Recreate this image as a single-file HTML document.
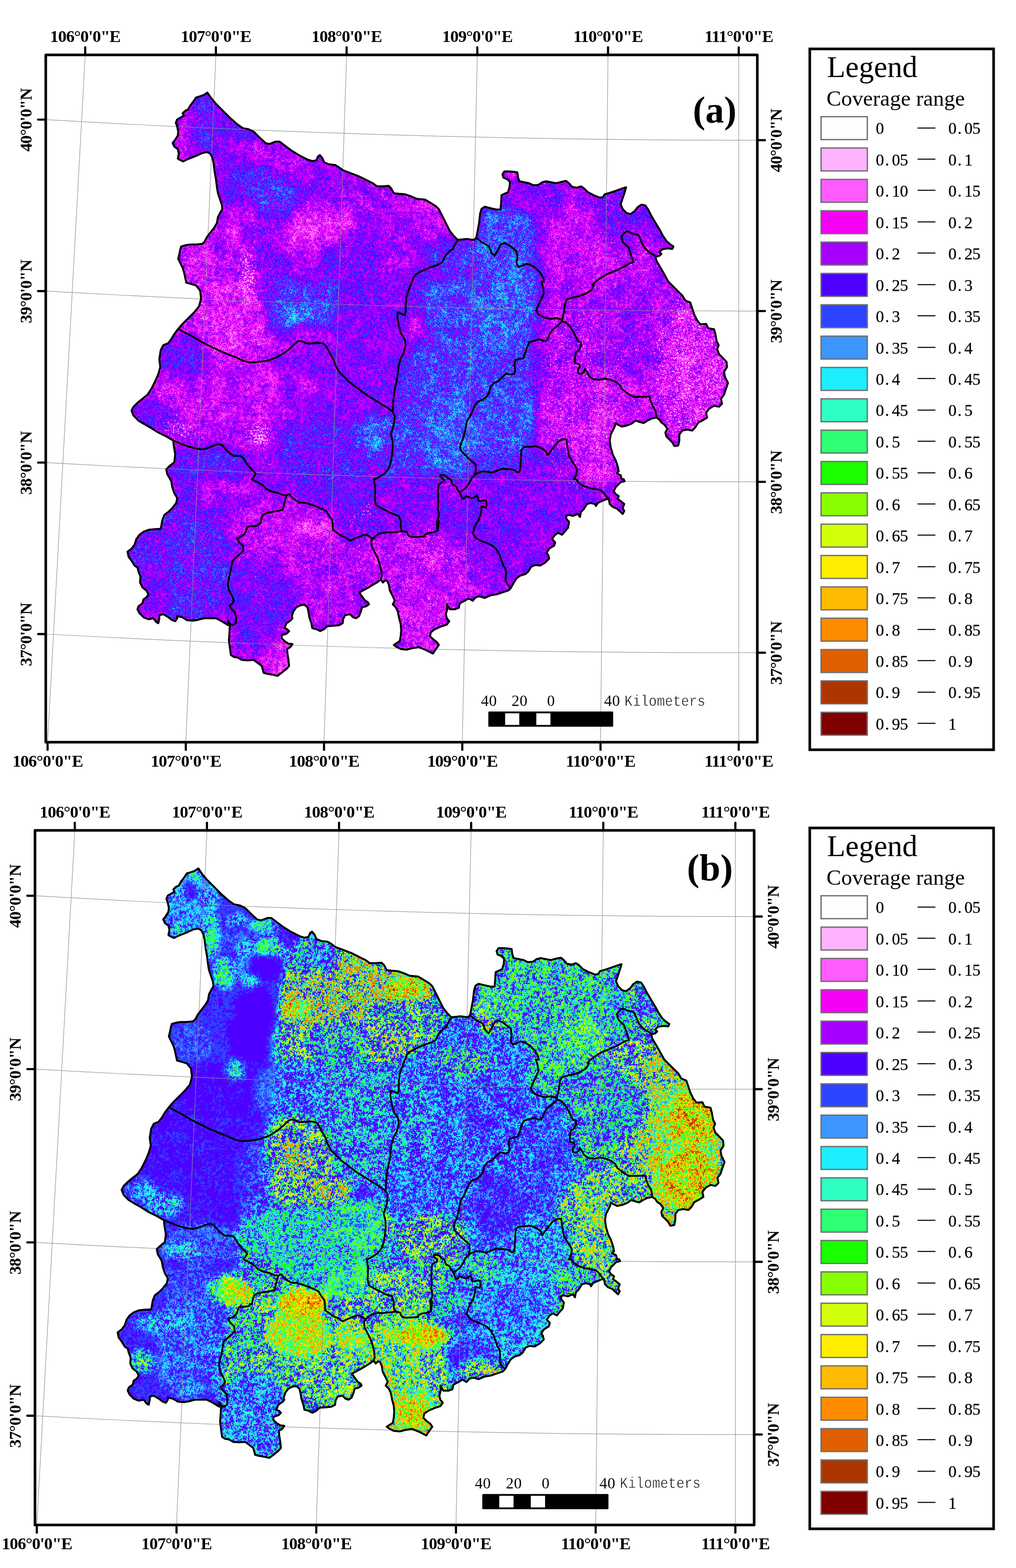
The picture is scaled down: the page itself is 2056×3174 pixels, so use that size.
<!DOCTYPE html>
<html lang="en"><head><meta charset="utf-8"><title>Vegetation coverage maps</title>
<style>
html,body{margin:0;padding:0;background:#fff}
body{width:2056px;height:3174px;overflow:hidden}
svg{display:block}
text{font-family:"Liberation Serif","Times New Roman",serif;fill:#000}
.b{font-weight:bold}
.r{font-weight:normal}
</style></head><body>
<svg width="2056" height="3174" viewBox="0 0 2056 3174">
<defs>
<filter id="blur1" filterUnits="userSpaceOnUse" x="200" y="130" width="1330" height="1295" color-interpolation-filters="sRGB"><feGaussianBlur stdDeviation="10"/></filter>
<filter id="ramp1" filterUnits="userSpaceOnUse" x="200" y="130" width="1330" height="1295" color-interpolation-filters="sRGB">
<feTurbulence type="fractalNoise" baseFrequency="0.035" numOctaves="3" seed="3" result="n1"/>
<feColorMatrix in="n1" type="matrix" values="1 0 0 0 0 1 0 0 0 0 1 0 0 0 0 0 0 0 0 1" result="n1g"/>
<feTurbulence type="fractalNoise" baseFrequency="0.14" numOctaves="2" seed="7" result="n2"/>
<feColorMatrix in="n2" type="matrix" values="0 1 0 0 0 0 1 0 0 0 0 1 0 0 0 0 0 0 0 1" result="n2g"/>
<feTurbulence type="fractalNoise" baseFrequency="0.55" numOctaves="1" seed="11" result="n3"/>
<feColorMatrix in="n3" type="matrix" values="0 0 1 0 0 0 0 1 0 0 0 0 1 0 0 0 0 0 0 1" result="n3g"/>
<feComposite in="n2g" in2="n3g" operator="arithmetic" k1="0" k2="1.0" k3="2.0" k4="-1.0000" result="n23"/>
<feComposite in="n23" in2="n1g" operator="arithmetic" k1="0" k2="1" k3="0.7" k4="-0.3500" result="nz"/>
<feColorMatrix in="SourceGraphic" type="matrix" values="1 0 0 0 0 1 0 0 0 0 1 0 0 0 0 0 0 0 0 1" result="sF"/>
<feColorMatrix in="SourceGraphic" type="matrix" values="0 1 0 0 0 0 1 0 0 0 0 1 0 0 0 0 0 0 0 1" result="sM0"/>
<feComponentTransfer in="sM0" result="sM"><feFuncR type="table" tableValues="1 0"/><feFuncG type="table" tableValues="1 0"/><feFuncB type="table" tableValues="1 0"/></feComponentTransfer>
<feColorMatrix in="SourceGraphic" type="matrix" values="0 0 1 0 0 0 0 1 0 0 0 0 1 0 0 0 0 0 0 1" result="sS"/>
<feComponentTransfer in="sF" result="am0"><feFuncR type="table" tableValues="0.286 0.286 0.286 0.257 0.229 0.229 0.314 0.371 0.400 0.400 0.357 0.357 0.357 0.357 0.357 0.357 0.357 0.357 0.357 0.357 0.357"/><feFuncG type="table" tableValues="0.286 0.286 0.286 0.257 0.229 0.229 0.314 0.371 0.400 0.400 0.357 0.357 0.357 0.357 0.357 0.357 0.357 0.357 0.357 0.357 0.357"/><feFuncB type="table" tableValues="0.286 0.286 0.286 0.257 0.229 0.229 0.314 0.371 0.400 0.400 0.357 0.357 0.357 0.357 0.357 0.357 0.357 0.357 0.357 0.357 0.357"/></feComponentTransfer>
<feComposite in="am0" in2="sM" operator="arithmetic" k1="1" k2="0" k3="0" k4="0" result="am"/>
<feComponentTransfer in="am" result="qq"><feFuncR type="table" tableValues="1 0"/><feFuncG type="table" tableValues="1 0"/><feFuncB type="table" tableValues="1 0"/></feComponentTransfer>
<feComponentTransfer in="sF" result="bs"><feFuncR type="table" tableValues="0.000 0.050 0.100 0.150 0.200 0.250 0.300 0.350 0.400 0.450 0.500 0.550 0.600 0.650 0.700 0.750 0.800 0.850 0.900 0.950 1.000"/><feFuncG type="table" tableValues="0.000 0.050 0.100 0.150 0.200 0.250 0.300 0.350 0.400 0.450 0.500 0.550 0.600 0.650 0.700 0.750 0.800 0.850 0.900 0.950 1.000"/><feFuncB type="table" tableValues="0.000 0.050 0.100 0.150 0.200 0.250 0.300 0.350 0.400 0.450 0.500 0.550 0.600 0.650 0.700 0.750 0.800 0.850 0.900 0.950 1.000"/></feComponentTransfer>
<feComposite in="am" in2="nz" operator="arithmetic" k1="1" k2="0" k3="0" k4="0" result="tt"/>
<feComposite in="tt" in2="qq" operator="arithmetic" k1="0" k2="0.7" k3="0.35" k4="0" result="uu"/>
<feComposite in="uu" in2="bs" operator="arithmetic" k1="0" k2="1" k3="1" k4="-0.35" result="v0"/>
<feTurbulence type="fractalNoise" baseFrequency="0.3" numOctaves="2" seed="23" result="n4"/>
<feColorMatrix in="n4" type="matrix" values="1 0 0 0 0 1 0 0 0 0 1 0 0 0 0 0 0 0 0 1" result="n4g"/>
<feComposite in="sS" in2="n4g" operator="arithmetic" k1="0" k2="0.4" k3="1" k4="-0.4" result="dd"/>
<feComponentTransfer in="dd" result="mk"><feFuncR type="discrete" tableValues="1 0"/><feFuncG type="discrete" tableValues="1 0"/><feFuncB type="discrete" tableValues="1 0"/></feComponentTransfer>
<feComposite in="v0" in2="mk" operator="arithmetic" k1="0" k2="1" k3="0.12" k4="-0.12" result="vv"/>
<feComponentTransfer in="vv" result="cl"><feFuncR type="discrete" tableValues="1.000 1.000 1.000 0.961 0.651 0.302 0.180 0.239 0.110 0.180 0.180 0.102 0.533 0.824 1.000 1.000 1.000 0.878 0.678 0.502"/><feFuncG type="discrete" tableValues="0.988 0.702 0.361 0.000 0.000 0.000 0.271 0.588 0.933 1.000 1.000 1.000 1.000 1.000 0.933 0.733 0.549 0.376 0.208 0.000"/><feFuncB type="discrete" tableValues="1.000 1.000 1.000 0.961 1.000 1.000 1.000 1.000 1.000 0.765 0.451 0.000 0.000 0.039 0.000 0.000 0.000 0.000 0.000 0.000"/></feComponentTransfer>
<feGaussianBlur in="cl" stdDeviation="0.5"/>
</filter>
<filter id="blur2" filterUnits="userSpaceOnUse" x="179.8" y="1700.3" width="1343.4" height="1308" color-interpolation-filters="sRGB"><feGaussianBlur stdDeviation="7"/></filter>
<filter id="ramp2" filterUnits="userSpaceOnUse" x="179.8" y="1700.3" width="1343.4" height="1308" color-interpolation-filters="sRGB">
<feTurbulence type="fractalNoise" baseFrequency="0.035" numOctaves="3" seed="5" result="n1"/>
<feColorMatrix in="n1" type="matrix" values="1 0 0 0 0 1 0 0 0 0 1 0 0 0 0 0 0 0 0 1" result="n1g"/>
<feTurbulence type="fractalNoise" baseFrequency="0.14" numOctaves="2" seed="9" result="n2"/>
<feColorMatrix in="n2" type="matrix" values="0 1 0 0 0 0 1 0 0 0 0 1 0 0 0 0 0 0 0 1" result="n2g"/>
<feTurbulence type="fractalNoise" baseFrequency="0.4" numOctaves="1" seed="13" result="n3"/>
<feColorMatrix in="n3" type="matrix" values="0 0 1 0 0 0 0 1 0 0 0 0 1 0 0 0 0 0 0 1" result="n3g"/>
<feComposite in="n2g" in2="n3g" operator="arithmetic" k1="0" k2="2.2" k3="2.6" k4="-1.9000" result="n23"/>
<feComposite in="n23" in2="n1g" operator="arithmetic" k1="0" k2="1" k3="1.0" k4="-0.5000" result="nz"/>
<feColorMatrix in="SourceGraphic" type="matrix" values="1 0 0 0 0 1 0 0 0 0 1 0 0 0 0 0 0 0 0 1" result="sF"/>
<feColorMatrix in="SourceGraphic" type="matrix" values="0 1 0 0 0 0 1 0 0 0 0 1 0 0 0 0 0 0 0 1" result="sM0"/>
<feComponentTransfer in="sM0" result="sM"><feFuncR type="table" tableValues="1 0"/><feFuncG type="table" tableValues="1 0"/><feFuncB type="table" tableValues="1 0"/></feComponentTransfer>
<feColorMatrix in="SourceGraphic" type="matrix" values="0 0 1 0 0 0 0 1 0 0 0 0 1 0 0 0 0 0 0 1" result="sS"/>
<feComponentTransfer in="sF" result="am0"><feFuncR type="table" tableValues="0.071 0.071 0.071 0.071 0.071 0.114 0.200 0.314 0.514 0.786 1.000 1.000 0.929 0.786 0.686 0.600 0.543 0.486 0.429 0.357 0.286"/><feFuncG type="table" tableValues="0.071 0.071 0.071 0.071 0.071 0.114 0.200 0.314 0.514 0.786 1.000 1.000 0.929 0.786 0.686 0.600 0.543 0.486 0.429 0.357 0.286"/><feFuncB type="table" tableValues="0.071 0.071 0.071 0.071 0.071 0.114 0.200 0.314 0.514 0.786 1.000 1.000 0.929 0.786 0.686 0.600 0.543 0.486 0.429 0.357 0.286"/></feComponentTransfer>
<feComposite in="am0" in2="sM" operator="arithmetic" k1="1" k2="0" k3="0" k4="0" result="am"/>
<feComponentTransfer in="am" result="qq"><feFuncR type="table" tableValues="1 0"/><feFuncG type="table" tableValues="1 0"/><feFuncB type="table" tableValues="1 0"/></feComponentTransfer>
<feComponentTransfer in="sF" result="bs"><feFuncR type="table" tableValues="0.000 0.050 0.100 0.150 0.200 0.250 0.300 0.335 0.370 0.400 0.440 0.490 0.550 0.610 0.670 0.720 0.770 0.820 0.880 0.930 1.000"/><feFuncG type="table" tableValues="0.000 0.050 0.100 0.150 0.200 0.250 0.300 0.335 0.370 0.400 0.440 0.490 0.550 0.610 0.670 0.720 0.770 0.820 0.880 0.930 1.000"/><feFuncB type="table" tableValues="0.000 0.050 0.100 0.150 0.200 0.250 0.300 0.335 0.370 0.400 0.440 0.490 0.550 0.610 0.670 0.720 0.770 0.820 0.880 0.930 1.000"/></feComponentTransfer>
<feComposite in="am" in2="nz" operator="arithmetic" k1="1" k2="0" k3="0" k4="0" result="tt"/>
<feComposite in="tt" in2="qq" operator="arithmetic" k1="0" k2="0.7" k3="0.35" k4="0" result="uu"/>
<feComposite in="uu" in2="bs" operator="arithmetic" k1="0" k2="1" k3="1" k4="-0.35" result="v0"/>
<feTurbulence type="fractalNoise" baseFrequency="0.3" numOctaves="2" seed="23" result="n4"/>
<feColorMatrix in="n4" type="matrix" values="1 0 0 0 0 1 0 0 0 0 1 0 0 0 0 0 0 0 0 1" result="n4g"/>
<feComposite in="sS" in2="n4g" operator="arithmetic" k1="0" k2="0.4" k3="1" k4="-0.4" result="dd"/>
<feComponentTransfer in="dd" result="mk"><feFuncR type="discrete" tableValues="1 0"/><feFuncG type="discrete" tableValues="1 0"/><feFuncB type="discrete" tableValues="1 0"/></feComponentTransfer>
<feComposite in="v0" in2="mk" operator="arithmetic" k1="0" k2="1" k3="0.15" k4="-0.15" result="vv"/>
<feComponentTransfer in="vv" result="cl"><feFuncR type="discrete" tableValues="0.302 0.302 0.302 0.302 0.302 0.302 0.180 0.239 0.110 0.180 0.180 0.102 0.533 0.824 1.000 1.000 1.000 0.878 0.678 0.502"/><feFuncG type="discrete" tableValues="0.000 0.000 0.000 0.000 0.000 0.000 0.271 0.588 0.933 1.000 1.000 1.000 1.000 1.000 0.933 0.733 0.549 0.376 0.208 0.000"/><feFuncB type="discrete" tableValues="1.000 1.000 1.000 1.000 1.000 1.000 1.000 1.000 1.000 0.765 0.451 0.000 0.000 0.039 0.000 0.000 0.000 0.000 0.000 0.000"/></feComponentTransfer>
<feGaussianBlur in="cl" stdDeviation="0.5"/>
</filter>
</defs>
<rect width="2056" height="3174" fill="#fff"/>
<!-- map a -->
<clipPath id="clip1"><path d="M419.7 187.3L427 198.1L437 210.2L449.1 222.3L465.2 238.4L481.2 252.4L491.3 259.3L503.4 261.7L513.4 266.5L525.5 278.6L537.5 289.8L545.6 291.4L557.6 286.6L565.7 286.6L573.7 292.6L589.8 304.7L605.9 314.7L622 322.8L632 326L640.1 324.8L643.3 316.8L647.3 313.9L652.1 319.6L656.1 328.8L666.2 332.8L678.3 334L686.3 338.9L694.3 344.9L710.4 350.9L726.5 357L742.6 365L754.7 371L762.7 377.1L774.8 377.1L786.8 376.3L791.6 381.1L796.9 391.1L806.9 392.3L819 393.2L831.1 397.2L843.1 402.4L860 404L872.1 411.2L882.1 417.3L888.1 423.3L892.2 431.3L898.2 443.4L904.2 455.5L910.3 467.5L918.3 477.6L926.3 485.6L934.4 484.8L944.4 483.6L958.5 485.6L963.7 481.6L966.5 467.5L969.4 451.5L971.8 431.3L974.6 422.5L980.6 418.5L992.7 421.3L1004.7 424.1L1012.8 424.1L1014 411.2L1014.8 395.2L1020.8 392.3L1028.1 389.1L1030.9 379.1L1032.1 369L1026.9 363L1018.8 359.8L1016.8 352.9L1020.8 346.9L1028.9 346.9L1038.9 347.7L1047 348.9L1048.2 359L1051 367L1061 369L1071.1 371L1079.1 375.1L1089.2 374.3L1097.2 369L1105.3 367L1115.3 369L1125.4 371L1137.4 367.8L1145.5 366.2L1151.5 371L1157.5 378.3L1167.6 379.9L1175.6 377.1L1181.7 381.1L1189.7 389.1L1201.8 395.2L1213.8 400L1219.9 399.2L1223.9 393.2L1233.9 390.3L1246 386.3L1258.1 381.9L1266.9 379.1L1264.1 389.1L1260.1 401.2L1256 413.3L1260.1 423.3L1268.1 431.3L1276.1 433.4L1284.2 427.3L1290.2 419.3L1298.3 414.1L1306.3 416.1L1312.3 425.3L1318.4 437.4L1324.4 447.4L1330.4 457.5L1336.5 467.5L1340.5 475.6L1348.5 487.6L1356.6 494.9L1362.6 498.9L1360.6 503.7L1350.5 502.9L1340.5 504.5L1334.4 509.8L1338.5 513.8L1334.4 517.8L1326.4 519.8L1328.4 527.8L1334.4 537.9L1342.5 552L1352.5 570.1L1362.6 580.1L1372.6 590.1L1380.7 598.1L1386.7 608.2L1396.8 612.2L1400.8 624.3L1404.8 636.3L1410.8 648.4L1416.9 656.4L1428.9 655.6L1433 664.5L1445 666.5L1447.8 676.5L1450.2 690.6L1454.3 698.7L1451.1 706.7L1455.1 716.8L1463.1 724.8L1470.4 732.8L1471.2 742.9L1465.1 752.9L1467.1 763L1473.2 775.1L1469.1 787.1L1465.1 799.2L1459.1 807.2L1461.1 817.3L1455.1 823.3L1445 821.3L1435 827.3L1428.9 835.4L1430.9 845.4L1420.9 851.5L1412.9 855.5L1406.8 865.5L1400.8 871.6L1390.7 869.5L1380.7 871.6L1374.7 879.6L1374.7 891.7L1372.6 901.7L1364.6 902.9L1360.6 895.7L1354.6 889.6L1348.5 883.6L1346.5 875.6L1350.5 867.5L1344.5 859.5L1338.5 855.5L1334.4 849.4L1328.4 845.4L1318.4 847.4L1310.3 851.5L1302.3 856.3L1292.2 853.5L1286.2 851.5L1278.2 857.5L1268.1 861.5L1258.1 863.5L1250 859.5L1246 856.3L1244 863.5L1240 871.6L1235.9 879.6L1233.9 891.7L1235.9 905.7L1240 919.8L1246 931.9L1250 943.9L1252 954L1248 958L1256 962L1258.1 970.1L1262.1 970L1264.1 974L1256 976L1252 980.1L1246 986.1L1242 994.1L1246 1000.2L1252 1004.2L1250 1010.2L1256 1014.2L1263.3 1020.3L1260.1 1028.3L1263.3 1034.3L1260.1 1040.4L1256 1036.3L1248 1029.5L1240 1026.3L1233.9 1020.3L1231.9 1010.2L1227.9 1010.2L1217.8 1014.2L1209.8 1018.2L1205.8 1024.3L1203.8 1020.3L1195.7 1018.2L1187.7 1020.3L1181.7 1030.3L1175.6 1036.3L1173.6 1046.4L1169.6 1040.4L1159.5 1044.4L1151.5 1042.4L1145.5 1044.4L1146.3 1050.4L1151.5 1056.4L1149.5 1068.5L1143.5 1075.3L1137.4 1082.6L1129.4 1078.6L1123.4 1082.6L1117.3 1090.6L1123.4 1097.9L1121.3 1104.7L1111.3 1110.7L1106.1 1119.6L1109.3 1122.8L1111.3 1130.8L1103.3 1138.9L1093.2 1144.9L1083.2 1143.7L1075.1 1146.9L1069.1 1157L1063 1162.2L1053 1165L1045 1171L1038.9 1181.1L1033.7 1190.3L1028.9 1195.2L1016.8 1199.2L1004.7 1203.2L992.7 1205.2L980.6 1210.4L970.6 1207.2L962.5 1209.2L956.5 1216.1L948.5 1211.2L940.4 1216.1L930.4 1221.3L928.4 1230.5L920.3 1233.4L910.3 1233.4L904.2 1223.3L905 1233.4L902.2 1243.4L904.2 1251.5L909.1 1257.5L904.2 1264.3L892.2 1268.3L880.1 1273.6L872.1 1279.6L870.1 1287.6L876.1 1293.7L884.1 1299.7L888.1 1305.7L882.1 1313.8L876.1 1323L868 1319L860 1315L847.1 1309.8L835.1 1311.8L823 1315L810.9 1313.8L802.9 1309.8L796.9 1305.7L800.9 1302.9L808.9 1297.7L810.9 1287.6L811.8 1275.6L810.9 1263.5L807.7 1251.5L804.9 1237.4L800.9 1229.3L794.9 1223.3L798.9 1215.3L794.9 1207.2L788.8 1195.2L786.8 1183.1L782.8 1175.1L778.8 1175.1L774.8 1179.1L770.7 1173L762.7 1179.1L752.6 1185.1L742.6 1191.1L734.6 1195.2L727.3 1199.2L732.5 1207.2L738.6 1215.3L744.6 1219.3L746.6 1223.3L740.6 1227.3L732.5 1229.3L730.5 1237.4L726.5 1247.4L720.5 1251.5L714.4 1249.4L708.4 1243.4L698.4 1245.4L694.3 1253.5L693.5 1261.5L686.3 1265.5L674.2 1266.7L662.2 1267.5L656.1 1273.6L648.1 1277.6L640.1 1273.6L632 1271.6L630 1261.5L626 1249.4L624 1237.4L622 1229.3L615.9 1224.1L607.9 1225.3L599.9 1229.3L593.8 1237.4L590.6 1247.4L591.8 1251.5L587.8 1256.3L579.8 1261.5L575.7 1271.6L581 1273.6L585 1277.6L579.8 1282.8L570.5 1285.6L569.7 1291.7L575.7 1297.7L583.8 1302.9L591.8 1303.7L587.8 1309.8L581 1313.8L581.8 1323.8L583.8 1335.9L585 1348L579.8 1354L569.7 1362L561.7 1368.1L553.6 1366L541.6 1364L533.5 1362L529.5 1348L521.5 1341.9L513.4 1335.9L501.3 1336.7L489.3 1335.9L481.2 1331.1L473.2 1329.9L467.2 1325.8L465.2 1311.8L463.2 1295.7L464.4 1279.6L465.2 1263.5L461.9 1256.3L461.1 1265.5L455.1 1261.5L445.1 1255.5L437 1251.5L425 1251.5L412.9 1251.5L400.8 1254.7L390.8 1256.3L378.7 1255.5L368.7 1249.4L358.6 1247.4L358.6 1251.5L354.6 1257.5L348.6 1255.5L340.5 1249.4L330.5 1243.4L322.4 1245.4L322.4 1251.5L320.4 1261.5L316.4 1259.5L310.4 1251.5L300.3 1253.5L290.3 1249.4L282.2 1241.4L278.2 1233.4L280.2 1227.3L288.2 1221.3L290.3 1213.3L296.3 1209.2L300.3 1203.2L296.3 1195.2L288.2 1189.1L283.4 1179.1L284.2 1167L280.2 1157L278.2 1148.9L272.2 1144.9L266.1 1134.9L260.1 1126.8L258.1 1116.8L266.1 1110.7L272.2 1102.7L276.2 1090.6L282.2 1082.6L290.3 1076.5L300.3 1072.5L312.4 1071.3L325.2 1070.5L326.4 1064.5L328.5 1052.4L332.5 1042.4L340.5 1036.3L348.6 1028.3L356.6 1018.2L358.6 1008.2L352.6 998.1L348.6 986.1L346.5 974L344.5 970.1L338.5 960L336.5 950L342.5 943.9L352.6 935.9L354.6 919.8L351.8 903.7L350.6 891.7L336.5 883.6L320.4 875.6L304.3 865.5L290.3 857.5L280.2 851.5L270.2 841.4L266.1 831.3L270.2 823.3L278.2 815.3L288.2 807.2L298.3 799.2L306.3 787.1L314.4 771L320.4 757L324.4 742.9L322.4 726.8L325.2 708.7L330.5 698.7L340.5 694.6L346.5 686.6L352.6 676.5L360.6 665.7L368.7 656.4L380.7 644.4L392.8 632.3L402.8 620.3L406.9 604.2L404.9 588.1L396.8 578L386.8 574.8L376.7 572L376.7 570.1L374.7 562L372.7 552L369.5 541.9L364.6 531.9L360.6 523.8L362.6 515.8L364.6 505.7L366.7 498.9L374.7 496.5L384.7 494.9L396.8 494.9L408.9 493.7L413.7 489.6L418.9 479.6L425.8 470.8L433 461.5L439 451.5L441 439.4L445.1 431.3L449.9 423.3L449.1 415.3L445.1 403.2L441 391.1L439 379.1L437 363L434.2 346.9L432.2 330.8L429.8 318.8L425 310.7L418.9 307.9L408.9 309.9L398.8 314.7L388.8 318.8L378.7 322.8L370.7 326.8L363.8 323.6L359.8 320.8L361.8 310.7L359.8 301.9L352.6 296.7L349.4 289.4L354.6 282.6L359.8 274.5L360.6 266.5L358.6 256.4L355.8 248.4L358.6 241.6L364.6 238.4L371.9 234.3L369.5 229.5L374.7 224.3L380.7 221.5L384.7 214.2L390.8 206.2L396.8 197.3L404.9 194.9L412.9 192.1Z"/></clipPath>
<g clip-path="url(#clip1)"><g filter="url(#ramp1)">
<rect x="200" y="130" width="1330" height="1295" fill="#380000"/>
<g filter="url(#blur1)">
<ellipse cx="419.4" cy="258.8" rx="36.2" ry="72.5" fill="#450000"/>
<ellipse cx="372.1" cy="271.2" rx="20.4" ry="49.8" fill="#360000"/>
<ellipse cx="468.8" cy="370" rx="45.3" ry="58.9" fill="#450000"/>
<ellipse cx="543" cy="386.5" rx="45.3" ry="49.8" fill="#4c0000"/>
<ellipse cx="477.1" cy="485.3" rx="36.2" ry="67.9" fill="#330000"/>
<ellipse cx="411.2" cy="580" rx="54.4" ry="99.7" fill="#320000"/>
<ellipse cx="411.2" cy="551.2" rx="36.2" ry="40.8" fill="#2e0000"/>
<ellipse cx="493.6" cy="575.9" rx="45.3" ry="58.9" fill="#330000"/>
<ellipse cx="633.6" cy="468.9" rx="63.4" ry="40.8" fill="#2d0000"/>
<ellipse cx="790.1" cy="427.7" rx="108.7" ry="67.9" fill="#380000"/>
<ellipse cx="847.7" cy="407.1" rx="45.3" ry="27.2" fill="#300000"/>
<ellipse cx="683" cy="365.9" rx="90.6" ry="45.3" fill="#3b0000"/>
<ellipse cx="617.1" cy="592.4" rx="81.5" ry="86.1" fill="#4a0000"/>
<ellipse cx="608.9" cy="637.7" rx="54.4" ry="22.6" fill="#5c0000"/>
<ellipse cx="748.9" cy="588.3" rx="63.4" ry="108.7" fill="#400000"/>
<ellipse cx="864.2" cy="493.6" rx="63.4" ry="67.9" fill="#370000"/>
<ellipse cx="493.6" cy="678.9" rx="72.5" ry="54.4" fill="#2f0000"/>
<ellipse cx="370" cy="728.3" rx="45.3" ry="45.3" fill="#470000"/>
<ellipse cx="378.2" cy="806.5" rx="108.7" ry="40.8" fill="#300000"/>
<ellipse cx="485.3" cy="740.6" rx="81.5" ry="49.8" fill="#370000"/>
<ellipse cx="320.6" cy="851.8" rx="45.3" ry="36.2" fill="#3b0000"/>
<ellipse cx="518.3" cy="843.6" rx="45.3" ry="63.4" fill="#320000"/>
<ellipse cx="625.3" cy="769.5" rx="72.5" ry="72.5" fill="#390000"/>
<ellipse cx="625.3" cy="794.2" rx="36.2" ry="27.2" fill="#300000"/>
<ellipse cx="678.9" cy="909.5" rx="131.4" ry="81.5" fill="#450000"/>
<ellipse cx="744.8" cy="757.1" rx="58.9" ry="67.9" fill="#3d0000"/>
<ellipse cx="761.2" cy="872.4" rx="40.8" ry="31.7" fill="#570000"/>
<ellipse cx="711.8" cy="1024.8" rx="95.1" ry="45.3" fill="#410000"/>
<path d="M921.8 489.4L971.2 481.2L971.2 423.6L1086.5 423.6L1086.5 950.7L872.4 950.7L798.3 983.6L765.3 975.4L798.3 835.4L806.5 621.2L831.2 571.8L888.9 538.9Z" fill="#4c0000"/>
<ellipse cx="888.9" cy="600.6" rx="72.5" ry="104.2" fill="#440000"/>
<ellipse cx="835.4" cy="687.1" rx="31.7" ry="54.4" fill="#330000"/>
<ellipse cx="1028.9" cy="505.9" rx="63.4" ry="90.6" fill="#520000"/>
<ellipse cx="1010.4" cy="683" rx="79.3" ry="104.2" fill="#500000"/>
<ellipse cx="880.6" cy="818.9" rx="81.5" ry="135.9" fill="#4c0000"/>
<ellipse cx="921.8" cy="919.8" rx="54.4" ry="38.5" fill="#580000"/>
<ellipse cx="1018.6" cy="835.4" rx="70.2" ry="108.7" fill="#520000"/>
<path d="M1086.5 324.7L1383 324.7L1481.9 654.2L1481.9 917.7L1259.5 983.6L1086.5 950.7Z" fill="#360000"/>
<ellipse cx="1078.3" cy="398.8" rx="63.4" ry="36.2" fill="#3c0000"/>
<ellipse cx="1173" cy="510" rx="95.1" ry="86.1" fill="#340000"/>
<ellipse cx="1288.3" cy="452.4" rx="77" ry="58.9" fill="#3e0000"/>
<ellipse cx="1243" cy="662.4" rx="108.7" ry="81.5" fill="#370000"/>
<ellipse cx="1403.6" cy="744.8" rx="67.9" ry="135.9" fill="#300000"/>
<ellipse cx="1127.7" cy="736.5" rx="45.3" ry="90.6" fill="#330000"/>
<ellipse cx="1193.6" cy="860.1" rx="63.4" ry="135.9" fill="#300000"/>
<ellipse cx="1206" cy="909.5" rx="40.8" ry="54.4" fill="#2d0000"/>
<ellipse cx="1090.7" cy="1070.1" rx="140.4" ry="131.4" fill="#3c0000"/>
<ellipse cx="823" cy="1024.8" rx="72.5" ry="54.4" fill="#450000"/>
<ellipse cx="930.1" cy="1024.8" rx="45.3" ry="45.3" fill="#410000"/>
<ellipse cx="868.3" cy="1131.9" rx="113.2" ry="63.4" fill="#330000"/>
<ellipse cx="860.1" cy="1251.3" rx="58.9" ry="67.9" fill="#2e0000"/>
<ellipse cx="979.5" cy="1127.7" rx="45.3" ry="67.9" fill="#3b0000"/>
<ellipse cx="592.4" cy="1090.7" rx="90.6" ry="63.4" fill="#330000"/>
<ellipse cx="625.3" cy="1074.2" rx="45.3" ry="22.6" fill="#2b0000"/>
<ellipse cx="538.9" cy="1222.5" rx="77" ry="99.7" fill="#420000"/>
<ellipse cx="683" cy="1193.6" rx="81.5" ry="67.9" fill="#370000"/>
<ellipse cx="563.6" cy="1329.5" rx="31.7" ry="36.2" fill="#280000"/>
<ellipse cx="423.5" cy="942.4" rx="86.1" ry="45.3" fill="#420000"/>
<ellipse cx="435.9" cy="1000.1" rx="45.3" ry="36.2" fill="#330000"/>
<ellipse cx="370" cy="1148.3" rx="117.8" ry="126.8" fill="#460000"/>
<ellipse cx="312.4" cy="1201.9" rx="36.2" ry="58.9" fill="#330000"/>
<ellipse cx="415.3" cy="1024.8" rx="67.9" ry="45.3" fill="#3e0000"/>
<ellipse cx="412.9" cy="256.4" rx="22.1" ry="59.7" fill="#450000" opacity="0.7"/>
<ellipse cx="372.7" cy="276.5" rx="17.7" ry="55.3" fill="#330000" opacity="0.7"/>
<ellipse cx="393.8" cy="240.4" rx="10" ry="11.1" fill="#2b0000" opacity="0.7"/>
<ellipse cx="449.1" cy="262.5" rx="22.1" ry="57.5" fill="#450000" opacity="0.7"/>
<ellipse cx="447.1" cy="286.6" rx="11.1" ry="17.7" fill="#2e0000" opacity="0.7"/>
<ellipse cx="443" cy="334.9" rx="11.1" ry="22.1" fill="#2e0000" opacity="0.7"/>
<ellipse cx="493.3" cy="266.5" rx="31" ry="17.7" fill="#450000" opacity="0.7"/>
<ellipse cx="509.4" cy="302.7" rx="31" ry="22.1" fill="#2e0000" opacity="0.7"/>
<ellipse cx="475.2" cy="375.1" rx="24.3" ry="48.7" fill="#450000" opacity="0.7"/>
<ellipse cx="473.2" cy="387.1" rx="8.8" ry="8.8" fill="#290000" opacity="0.7"/>
<ellipse cx="569.7" cy="314.7" rx="35.4" ry="26.5" fill="#380000" opacity="0.7"/>
<ellipse cx="517.4" cy="367" rx="31" ry="48.7" fill="#470000" opacity="0.7"/>
<ellipse cx="563.7" cy="346.9" rx="19.9" ry="13.3" fill="#260000" opacity="0.7"/>
<ellipse cx="571.7" cy="407.2" rx="33.2" ry="39.8" fill="#520000" opacity="0.7"/>
<ellipse cx="648.1" cy="367" rx="50.9" ry="48.7" fill="#3e0000" opacity="0.7"/>
<ellipse cx="642.1" cy="346.9" rx="22.1" ry="8.8" fill="#2e0000" opacity="0.7"/>
<ellipse cx="738.6" cy="383.1" rx="48.7" ry="39.8" fill="#390000" opacity="0.7"/>
<ellipse cx="821.4" cy="423.3" rx="42.5" ry="31" fill="#330000" opacity="0.7"/>
<ellipse cx="469.2" cy="459.5" rx="31" ry="44.2" fill="#330000" opacity="0.7"/>
<ellipse cx="509.4" cy="427.3" rx="13.3" ry="17.7" fill="#290000" opacity="0.7"/>
<ellipse cx="541.6" cy="467.5" rx="48.7" ry="35.4" fill="#3c0000" opacity="0.7"/>
<ellipse cx="613.9" cy="457.5" rx="31" ry="37.6" fill="#260000" opacity="0.7"/>
<ellipse cx="682.3" cy="451.5" rx="44.2" ry="26.5" fill="#2b0000" opacity="0.7"/>
<ellipse cx="791.2" cy="481.6" rx="75.6" ry="55.3" fill="#3c0000" opacity="0.7"/>
<ellipse cx="404.9" cy="534.9" rx="39.8" ry="38.7" fill="#300000" opacity="0.7"/>
<ellipse cx="469.2" cy="534.9" rx="31" ry="38.7" fill="#380000" opacity="0.7"/>
<ellipse cx="549.6" cy="534.9" rx="39.8" ry="38.7" fill="#410000" opacity="0.7"/>
<ellipse cx="613.9" cy="530.9" rx="31" ry="43.1" fill="#2e0000" opacity="0.7"/>
<ellipse cx="702.4" cy="526.8" rx="66.3" ry="47.5" fill="#410000" opacity="0.7"/>
<ellipse cx="811.3" cy="546.9" rx="53.5" ry="25.4" fill="#360000" opacity="0.7"/>
<ellipse cx="876.1" cy="451.5" rx="17.7" ry="44.2" fill="#2e0000" opacity="0.7"/>
<ellipse cx="890.2" cy="507.7" rx="33.2" ry="26.5" fill="#4a0000" opacity="0.7"/>
<ellipse cx="938.4" cy="528.9" rx="28.7" ry="45.3" fill="#4f0000" opacity="0.7"/>
<ellipse cx="1141.5" cy="381.1" rx="132.7" ry="33.2" fill="#3e0000" opacity="0.7"/>
<ellipse cx="1161.6" cy="491.7" rx="66.3" ry="66.3" fill="#330000" opacity="0.7"/>
<ellipse cx="1292.2" cy="449.4" rx="77.4" ry="68.6" fill="#410000" opacity="0.7"/>
<ellipse cx="1302.3" cy="520.8" rx="44.2" ry="54.2" fill="#330000" opacity="0.7"/>
<path d="M974.6 423.3L1012.8 427.3L1040.9 427.3L1069.1 459.5L1089.2 491.7L1093.2 570.1L1040.9 570.1L1045 511.8L1020.8 491.7L1000.7 515.8L980.6 495.7L963.7 483.6Z" fill="#520000" opacity="0.7"/>
<ellipse cx="394.8" cy="610.2" rx="24.3" ry="44.2" fill="#2e0000" opacity="0.7"/>
<ellipse cx="477.2" cy="650.4" rx="66.3" ry="88.5" fill="#2b0000" opacity="0.7"/>
<ellipse cx="609.9" cy="630.3" rx="79.6" ry="66.3" fill="#4c0000" opacity="0.7"/>
<ellipse cx="618" cy="640.4" rx="48.7" ry="19.9" fill="#610000" opacity="0.7"/>
<ellipse cx="752.6" cy="690.6" rx="77.4" ry="132.7" fill="#3e0000" opacity="0.7"/>
<ellipse cx="624" cy="674.5" rx="42" ry="17.7" fill="#2e0000" opacity="0.7"/>
<ellipse cx="368.7" cy="722.8" rx="44.2" ry="44.2" fill="#450000" opacity="0.7"/>
<ellipse cx="350.6" cy="791.1" rx="55.3" ry="44.2" fill="#330000" opacity="0.7"/>
<ellipse cx="306.3" cy="841.4" rx="37.6" ry="33.2" fill="#420000" opacity="0.7"/>
<ellipse cx="493.3" cy="811.2" rx="88.5" ry="88.5" fill="#330000" opacity="0.7"/>
<ellipse cx="541.6" cy="781.1" rx="22.1" ry="33.2" fill="#2e0000" opacity="0.7"/>
<ellipse cx="684.3" cy="777.1" rx="121.6" ry="81.8" fill="#3e0000" opacity="0.7"/>
<ellipse cx="611.9" cy="779.1" rx="33.2" ry="17.7" fill="#300000" opacity="0.7"/>
<ellipse cx="678.3" cy="910.8" rx="128.3" ry="65.2" fill="#450000" opacity="0.7"/>
<ellipse cx="762.7" cy="881.6" rx="44.2" ry="33.2" fill="#590000" opacity="0.7"/>
<ellipse cx="425" cy="936.9" rx="79.6" ry="36.5" fill="#470000" opacity="0.7"/>
<path d="M860 570L1095.2 570L1085.2 628.3L1083.2 690.6L1083.2 811.2L1032.9 831.3L960.5 943.9L960.5 970.1L860 970.1Z" fill="#4f0000"/>
<ellipse cx="1020.8" cy="630.3" rx="66.3" ry="66.3" fill="#590000" opacity="0.7"/>
<ellipse cx="910.3" cy="890.7" rx="55.3" ry="87.4" fill="#580000" opacity="0.7"/>
<ellipse cx="1153.5" cy="690.6" rx="75.2" ry="132.7" fill="#370000" opacity="0.7"/>
<ellipse cx="1153.5" cy="890.7" rx="75.2" ry="87.4" fill="#330000" opacity="0.7"/>
<ellipse cx="1282.2" cy="670.5" rx="66.3" ry="110.6" fill="#3b0000" opacity="0.7"/>
<ellipse cx="1406.8" cy="740.9" rx="70.8" ry="121.6" fill="#2e0000" opacity="0.7"/>
<ellipse cx="1282.2" cy="811.2" rx="66.3" ry="44.2" fill="#300000" opacity="0.7"/>
<ellipse cx="1109.3" cy="936.9" rx="61.9" ry="36.5" fill="#420000" opacity="0.7"/>
<ellipse cx="1006.8" cy="940.9" rx="50.9" ry="32.1" fill="#470000" opacity="0.7"/>
<ellipse cx="1205.8" cy="910.8" rx="44.2" ry="65.2" fill="#2e0000" opacity="0.7"/>
<ellipse cx="425" cy="1000.2" rx="26.5" ry="24.3" fill="#330000" opacity="0.7"/>
<ellipse cx="370.7" cy="1140.9" rx="121.6" ry="121.6" fill="#420000" opacity="0.7"/>
<ellipse cx="310.4" cy="1090.6" rx="33.2" ry="22.1" fill="#330000" opacity="0.7"/>
<ellipse cx="312.4" cy="1197.2" rx="31" ry="37.6" fill="#300000" opacity="0.7"/>
<ellipse cx="613.9" cy="1090.6" rx="163.6" ry="88.5" fill="#330000" opacity="0.7"/>
<ellipse cx="638.1" cy="1066.5" rx="39.8" ry="26.5" fill="#260000" opacity="0.7"/>
<ellipse cx="533.5" cy="1231.3" rx="75.2" ry="110.6" fill="#400000" opacity="0.7"/>
<ellipse cx="559.6" cy="1319.8" rx="28.7" ry="53.1" fill="#260000" opacity="0.7"/>
<ellipse cx="682.3" cy="1181.1" rx="88.5" ry="99.5" fill="#370000" opacity="0.7"/>
<path d="M513.4 970L758.7 970L758.7 1022.3L810.9 1050.4L810.9 1074.5L754.7 1090.6L708.4 1094.6L673.4 1070.5L666.2 1044.4L615.9 1017.4L585.8 1000.2L549.6 994.9Z" fill="#450000" opacity="0.7"/>
<ellipse cx="809.3" cy="1022.3" rx="55.7" ry="57.5" fill="#3c0000" opacity="0.7"/>
<ellipse cx="811.3" cy="1197.2" rx="53.5" ry="126.1" fill="#330000" opacity="0.7"/>
<ellipse cx="908.2" cy="1144.9" rx="53.1" ry="192.4" fill="#360000" opacity="0.7"/>
<ellipse cx="880.1" cy="1130.8" rx="22.1" ry="22.1" fill="#290000" opacity="0.7"/>
<ellipse cx="930.4" cy="1191.1" rx="11.1" ry="22.1" fill="#290000" opacity="0.7"/>
<ellipse cx="924.3" cy="1050.4" rx="39.8" ry="44.2" fill="#450000" opacity="0.7"/>
<path d="M964.5 1006.2L984.6 1010.2L976.6 1022.3L956.5 1070.5L996.7 1094.6L1020.8 1142.9L1032.9 1179.1L1109.3 1118.8L1149.5 1050.4L1181.7 1018.2L1229.9 998.1L1173.6 970L932.4 970L936.4 994.1Z" fill="#3d0000"/>
<ellipse cx="1000.7" cy="1080.6" rx="44.2" ry="99.5" fill="#410000" opacity="0.7"/>
<ellipse cx="410.9" cy="254.4" rx="24.3" ry="61.9" fill="#470000" opacity="0.8"/>
<ellipse cx="543" cy="386.5" rx="45.3" ry="49.8" fill="#4c0000" opacity="0.7"/>
<ellipse cx="493.3" cy="266.5" rx="39.8" ry="26.5" fill="#460000" opacity="0.6"/>
<ellipse cx="364.6" cy="1140.9" rx="110.6" ry="117.2" fill="#490000" opacity="0.6"/>
<ellipse cx="374.7" cy="994.1" rx="28.7" ry="26.5" fill="#460000" opacity="0.6"/>
<ellipse cx="314.4" cy="841.4" rx="37.6" ry="37.6" fill="#450000" opacity="0.5"/>
<ellipse cx="521.5" cy="1243.4" rx="44.2" ry="88.5" fill="#440000" opacity="0.6"/>
</g>
<g filter="url(#blur1)" style="mix-blend-mode:lighten">
<path d="M1086.5 324.7L1383 324.7L1481.9 654.2L1481.9 917.7L1259.5 983.6L1086.5 950.7Z" fill="#000059"/>
<ellipse cx="1399.5" cy="744.8" rx="81.5" ry="154" fill="#000099"/>
<ellipse cx="1177.1" cy="818.9" rx="90.6" ry="181.2" fill="#00007a"/>
<ellipse cx="872.4" cy="1197.7" rx="126.8" ry="145" fill="#000066"/>
<ellipse cx="633.6" cy="1144.2" rx="145" ry="131.4" fill="#000059"/>
<ellipse cx="468.8" cy="580" rx="126.8" ry="172.1" fill="#000059"/>
<ellipse cx="415.3" cy="835.4" rx="158.5" ry="81.5" fill="#00004c"/>
<ellipse cx="748.9" cy="456.5" rx="190.3" ry="108.7" fill="#00004c"/>
<ellipse cx="374.1" cy="1107.1" rx="113.2" ry="135.9" fill="#000040"/>
<ellipse cx="683" cy="839.5" rx="135.9" ry="158.5" fill="#000033"/>
<ellipse cx="501.8" cy="555.3" rx="13.6" ry="45.3" fill="#0000f2"/>
<ellipse cx="524.4" cy="884.8" rx="24.9" ry="27.2" fill="#0000e6"/>
<ellipse cx="361.8" cy="868.3" rx="36.2" ry="18.1" fill="#0000cc"/>
<ellipse cx="740.6" cy="1033" rx="27.2" ry="18.1" fill="#0000cc"/>
</g>
</g></g>
<g stroke="#8c8c8c" stroke-width="1.2" fill="none" opacity="0.85">
<line x1="172.4" y1="111.2" x2="96.3" y2="1502.3"/>
<line x1="436.9" y1="111.2" x2="376" y2="1502.3"/>
<line x1="701.4" y1="111.2" x2="655.7" y2="1502.3"/>
<line x1="965.9" y1="111.2" x2="935.5" y2="1502.3"/>
<line x1="1230.4" y1="111.2" x2="1215.2" y2="1502.3"/>
<line x1="1494.9" y1="111.2" x2="1494.9" y2="1502.3"/>
<path d="M92.6 242.1A24349.8 24349.8 0 0 0 1532.5 283.8"/>
<path d="M92.6 589.2A24695.6 24695.6 0 0 0 1532.5 629.6"/>
<path d="M92.6 936.4A25041.4 25041.4 0 0 0 1532.5 975.4"/>
<path d="M92.6 1283.5A25387.2 25387.2 0 0 0 1532.5 1321.2"/>
</g>
<g fill="none" stroke="#000" stroke-width="3.6" stroke-linejoin="round" stroke-linecap="round">
<path d="M419.7 187.3L427 198.1L437 210.2L449.1 222.3L465.2 238.4L481.2 252.4L491.3 259.3L503.4 261.7L513.4 266.5L525.5 278.6L537.5 289.8L545.6 291.4L557.6 286.6L565.7 286.6L573.7 292.6L589.8 304.7L605.9 314.7L622 322.8L632 326L640.1 324.8L643.3 316.8L647.3 313.9L652.1 319.6L656.1 328.8L666.2 332.8L678.3 334L686.3 338.9L694.3 344.9L710.4 350.9L726.5 357L742.6 365L754.7 371L762.7 377.1L774.8 377.1L786.8 376.3L791.6 381.1L796.9 391.1L806.9 392.3L819 393.2L831.1 397.2L843.1 402.4L860 404L872.1 411.2L882.1 417.3L888.1 423.3L892.2 431.3L898.2 443.4L904.2 455.5L910.3 467.5L918.3 477.6L926.3 485.6L934.4 484.8L944.4 483.6L958.5 485.6L963.7 481.6L966.5 467.5L969.4 451.5L971.8 431.3L974.6 422.5L980.6 418.5L992.7 421.3L1004.7 424.1L1012.8 424.1L1014 411.2L1014.8 395.2L1020.8 392.3L1028.1 389.1L1030.9 379.1L1032.1 369L1026.9 363L1018.8 359.8L1016.8 352.9L1020.8 346.9L1028.9 346.9L1038.9 347.7L1047 348.9L1048.2 359L1051 367L1061 369L1071.1 371L1079.1 375.1L1089.2 374.3L1097.2 369L1105.3 367L1115.3 369L1125.4 371L1137.4 367.8L1145.5 366.2L1151.5 371L1157.5 378.3L1167.6 379.9L1175.6 377.1L1181.7 381.1L1189.7 389.1L1201.8 395.2L1213.8 400L1219.9 399.2L1223.9 393.2L1233.9 390.3L1246 386.3L1258.1 381.9L1266.9 379.1L1264.1 389.1L1260.1 401.2L1256 413.3L1260.1 423.3L1268.1 431.3L1276.1 433.4L1284.2 427.3L1290.2 419.3L1298.3 414.1L1306.3 416.1L1312.3 425.3L1318.4 437.4L1324.4 447.4L1330.4 457.5L1336.5 467.5L1340.5 475.6L1348.5 487.6L1356.6 494.9L1362.6 498.9L1360.6 503.7L1350.5 502.9L1340.5 504.5L1334.4 509.8L1338.5 513.8L1334.4 517.8L1326.4 519.8L1328.4 527.8L1334.4 537.9L1342.5 552L1352.5 570.1L1362.6 580.1L1372.6 590.1L1380.7 598.1L1386.7 608.2L1396.8 612.2L1400.8 624.3L1404.8 636.3L1410.8 648.4L1416.9 656.4L1428.9 655.6L1433 664.5L1445 666.5L1447.8 676.5L1450.2 690.6L1454.3 698.7L1451.1 706.7L1455.1 716.8L1463.1 724.8L1470.4 732.8L1471.2 742.9L1465.1 752.9L1467.1 763L1473.2 775.1L1469.1 787.1L1465.1 799.2L1459.1 807.2L1461.1 817.3L1455.1 823.3L1445 821.3L1435 827.3L1428.9 835.4L1430.9 845.4L1420.9 851.5L1412.9 855.5L1406.8 865.5L1400.8 871.6L1390.7 869.5L1380.7 871.6L1374.7 879.6L1374.7 891.7L1372.6 901.7L1364.6 902.9L1360.6 895.7L1354.6 889.6L1348.5 883.6L1346.5 875.6L1350.5 867.5L1344.5 859.5L1338.5 855.5L1334.4 849.4L1328.4 845.4L1318.4 847.4L1310.3 851.5L1302.3 856.3L1292.2 853.5L1286.2 851.5L1278.2 857.5L1268.1 861.5L1258.1 863.5L1250 859.5L1246 856.3L1244 863.5L1240 871.6L1235.9 879.6L1233.9 891.7L1235.9 905.7L1240 919.8L1246 931.9L1250 943.9L1252 954L1248 958L1256 962L1258.1 970.1L1262.1 970L1264.1 974L1256 976L1252 980.1L1246 986.1L1242 994.1L1246 1000.2L1252 1004.2L1250 1010.2L1256 1014.2L1263.3 1020.3L1260.1 1028.3L1263.3 1034.3L1260.1 1040.4L1256 1036.3L1248 1029.5L1240 1026.3L1233.9 1020.3L1231.9 1010.2L1227.9 1010.2L1217.8 1014.2L1209.8 1018.2L1205.8 1024.3L1203.8 1020.3L1195.7 1018.2L1187.7 1020.3L1181.7 1030.3L1175.6 1036.3L1173.6 1046.4L1169.6 1040.4L1159.5 1044.4L1151.5 1042.4L1145.5 1044.4L1146.3 1050.4L1151.5 1056.4L1149.5 1068.5L1143.5 1075.3L1137.4 1082.6L1129.4 1078.6L1123.4 1082.6L1117.3 1090.6L1123.4 1097.9L1121.3 1104.7L1111.3 1110.7L1106.1 1119.6L1109.3 1122.8L1111.3 1130.8L1103.3 1138.9L1093.2 1144.9L1083.2 1143.7L1075.1 1146.9L1069.1 1157L1063 1162.2L1053 1165L1045 1171L1038.9 1181.1L1033.7 1190.3L1028.9 1195.2L1016.8 1199.2L1004.7 1203.2L992.7 1205.2L980.6 1210.4L970.6 1207.2L962.5 1209.2L956.5 1216.1L948.5 1211.2L940.4 1216.1L930.4 1221.3L928.4 1230.5L920.3 1233.4L910.3 1233.4L904.2 1223.3L905 1233.4L902.2 1243.4L904.2 1251.5L909.1 1257.5L904.2 1264.3L892.2 1268.3L880.1 1273.6L872.1 1279.6L870.1 1287.6L876.1 1293.7L884.1 1299.7L888.1 1305.7L882.1 1313.8L876.1 1323L868 1319L860 1315L847.1 1309.8L835.1 1311.8L823 1315L810.9 1313.8L802.9 1309.8L796.9 1305.7L800.9 1302.9L808.9 1297.7L810.9 1287.6L811.8 1275.6L810.9 1263.5L807.7 1251.5L804.9 1237.4L800.9 1229.3L794.9 1223.3L798.9 1215.3L794.9 1207.2L788.8 1195.2L786.8 1183.1L782.8 1175.1L778.8 1175.1L774.8 1179.1L770.7 1173L762.7 1179.1L752.6 1185.1L742.6 1191.1L734.6 1195.2L727.3 1199.2L732.5 1207.2L738.6 1215.3L744.6 1219.3L746.6 1223.3L740.6 1227.3L732.5 1229.3L730.5 1237.4L726.5 1247.4L720.5 1251.5L714.4 1249.4L708.4 1243.4L698.4 1245.4L694.3 1253.5L693.5 1261.5L686.3 1265.5L674.2 1266.7L662.2 1267.5L656.1 1273.6L648.1 1277.6L640.1 1273.6L632 1271.6L630 1261.5L626 1249.4L624 1237.4L622 1229.3L615.9 1224.1L607.9 1225.3L599.9 1229.3L593.8 1237.4L590.6 1247.4L591.8 1251.5L587.8 1256.3L579.8 1261.5L575.7 1271.6L581 1273.6L585 1277.6L579.8 1282.8L570.5 1285.6L569.7 1291.7L575.7 1297.7L583.8 1302.9L591.8 1303.7L587.8 1309.8L581 1313.8L581.8 1323.8L583.8 1335.9L585 1348L579.8 1354L569.7 1362L561.7 1368.1L553.6 1366L541.6 1364L533.5 1362L529.5 1348L521.5 1341.9L513.4 1335.9L501.3 1336.7L489.3 1335.9L481.2 1331.1L473.2 1329.9L467.2 1325.8L465.2 1311.8L463.2 1295.7L464.4 1279.6L465.2 1263.5L461.9 1256.3L461.1 1265.5L455.1 1261.5L445.1 1255.5L437 1251.5L425 1251.5L412.9 1251.5L400.8 1254.7L390.8 1256.3L378.7 1255.5L368.7 1249.4L358.6 1247.4L358.6 1251.5L354.6 1257.5L348.6 1255.5L340.5 1249.4L330.5 1243.4L322.4 1245.4L322.4 1251.5L320.4 1261.5L316.4 1259.5L310.4 1251.5L300.3 1253.5L290.3 1249.4L282.2 1241.4L278.2 1233.4L280.2 1227.3L288.2 1221.3L290.3 1213.3L296.3 1209.2L300.3 1203.2L296.3 1195.2L288.2 1189.1L283.4 1179.1L284.2 1167L280.2 1157L278.2 1148.9L272.2 1144.9L266.1 1134.9L260.1 1126.8L258.1 1116.8L266.1 1110.7L272.2 1102.7L276.2 1090.6L282.2 1082.6L290.3 1076.5L300.3 1072.5L312.4 1071.3L325.2 1070.5L326.4 1064.5L328.5 1052.4L332.5 1042.4L340.5 1036.3L348.6 1028.3L356.6 1018.2L358.6 1008.2L352.6 998.1L348.6 986.1L346.5 974L344.5 970.1L338.5 960L336.5 950L342.5 943.9L352.6 935.9L354.6 919.8L351.8 903.7L350.6 891.7L336.5 883.6L320.4 875.6L304.3 865.5L290.3 857.5L280.2 851.5L270.2 841.4L266.1 831.3L270.2 823.3L278.2 815.3L288.2 807.2L298.3 799.2L306.3 787.1L314.4 771L320.4 757L324.4 742.9L322.4 726.8L325.2 708.7L330.5 698.7L340.5 694.6L346.5 686.6L352.6 676.5L360.6 665.7L368.7 656.4L380.7 644.4L392.8 632.3L402.8 620.3L406.9 604.2L404.9 588.1L396.8 578L386.8 574.8L376.7 572L376.7 570.1L374.7 562L372.7 552L369.5 541.9L364.6 531.9L360.6 523.8L362.6 515.8L364.6 505.7L366.7 498.9L374.7 496.5L384.7 494.9L396.8 494.9L408.9 493.7L413.7 489.6L418.9 479.6L425.8 470.8L433 461.5L439 451.5L441 439.4L445.1 431.3L449.9 423.3L449.1 415.3L445.1 403.2L441 391.1L439 379.1L437 363L434.2 346.9L432.2 330.8L429.8 318.8L425 310.7L418.9 307.9L408.9 309.9L398.8 314.7L388.8 318.8L378.7 322.8L370.7 326.8L363.8 323.6L359.8 320.8L361.8 310.7L359.8 301.9L352.6 296.7L349.4 289.4L354.6 282.6L359.8 274.5L360.6 266.5L358.6 256.4L355.8 248.4L358.6 241.6L364.6 238.4L371.9 234.3L369.5 229.5L374.7 224.3L380.7 221.5L384.7 214.2L390.8 206.2L396.8 197.3L404.9 194.9L412.9 192.1Z" stroke-width="3.9"/>
<path d="M360.6 665.7L372.7 672.5L388.8 680.6L404.9 690.6L420.9 698.7L441 708.7L465.2 718.8L481.2 724.8L493.3 730.8L505.4 733.6L521.5 732.8L541.6 730L561.7 722.8L577.7 712.7L589.8 702.7L597.8 694.6L603.9 690.6L611.9 690.6L620 695.4L630 695.4L642.1 693.8L654.1 695.4L660.2 700.7L666.2 712.7L674.2 726.8L680.3 742.9L686.3 752.9L696.4 763L706.4 773L722.5 785.1L738.6 797.2L754.7 807.2L770.7 817.3L786.8 827.3L794.9 833.4"/>
<path d="M926.3 485.6L920.3 495.7L916.3 503.7L908.2 509.8L900.2 519.8L894.2 531.9L884.1 536.7L872.1 540.7L860 545.9L851.2 550L843.1 554.8L837.1 560.8L833.9 570.1L833.1 570L829 582.1L823 598.1L821 614.2L821 630.3L819 638.4L810.9 634.3L804.9 632.3L804.1 642.4L806.9 658.5L810.9 674.5L819 686.6L821 698.7L817 714.7L810.9 724.8L806.9 738.9L804.9 755L802.9 771L798.9 787.1L796.9 803.2L794.9 819.3L794.9 833.4L798.9 843.4L796.9 859.5L792.9 871.6L790.8 879.6L794.1 891.7L794.9 907.7L792.9 923.8L790.8 935.9L786.8 948L778.8 958L766.7 966L758.7 970.1L756.7 970L758.7 982.1L759.5 994.1L758.7 1010.2L760.7 1022.3L770.7 1028.3L782.8 1034.3L794.9 1040.4L806.9 1044.4L810.9 1054.4L810.9 1066.5L813 1075.3"/>
<path d="M350.6 891.7L364.6 897.7L380.7 903.7L396.8 907.7L408.9 909.8L420.9 906.9L433 901.7L441 898.9L449.1 900.5L457.1 909.8L465.2 917.8L473.2 923L485.3 923L491.3 925.8L497.3 935.9L505.4 945.9L513.4 954L517.4 959.2L513.4 966L509.4 970.1L513.4 972L521.5 976L531.5 982.1L539.5 990.1L549.6 994.9L561.7 997.3L571.7 1002.2L579.8 1003L585.8 1000.2L589.8 1006.2L597.8 1012.2L605.9 1017.4L615.9 1017.4L626 1020.3L638.1 1024.3L650.1 1029.5L660.2 1034.3L666.2 1044.4L672.2 1052.4L673.4 1062.5L673.4 1072.5L682.3 1078.6L690.3 1084.6L700.4 1088.6L708.4 1094.6L716.5 1090.6L726.5 1086.6L736.6 1082.6L742.6 1082.6L748.6 1086.6L754.7 1090.6L760.7 1084.6L766.7 1080.6L778.8 1077.8L790.8 1077.8L802.9 1076.5L813 1075.3L823 1076.5L827 1084.6L835.1 1087.4L847.1 1086.6L860 1085.8"/>
<path d="M579.8 1003L576.9 1012.2L574.5 1022.3L571.7 1032.3L561.7 1034.3L549.6 1036.3L539.5 1038.4L531.5 1042.4L528.7 1050.4L527.5 1058.5L519.4 1064.5L509.4 1065.3L500.5 1066.5L497.3 1076.5L493.3 1082.6L487.3 1086.6L479.2 1089.8L483.3 1096.7L491.3 1104.7L492.5 1114.7L485.3 1122L477.2 1128.8L470 1135.7L468.4 1146.9L466 1159L463.2 1171L461.1 1183.1L463.2 1195.2L469.2 1205.2L473.2 1215.3L469.2 1223.3L464.4 1225.3L467.2 1231.3L475.2 1239.4L478 1251.5L477.2 1261.5L471.2 1265.5L465.2 1263.5"/>
<path d="M754.7 1090.6L751.4 1094.6L752.6 1106.7L758.7 1118.8L764.7 1130.8L768.7 1142.9L771.5 1155L772.7 1167L770.7 1173"/>
<path d="M963.7 481.6L976.6 491.7L988.7 497.7L994.7 511.8L1000.7 517.8L1006.8 507.7L1012.8 495.7L1020.8 491.7L1028.9 495.7L1036.9 501.7L1045 507.7L1047 519.8L1045 531.9L1049 539.9L1057 537.9L1065.1 533.9L1073.1 535.9L1083.2 541.9L1093.2 552L1099.2 562L1101.2 570.1L1095.2 570L1099.2 582.1L1100.4 594.1L1095.2 606.2L1089.2 618.2L1085.2 628.3L1089.2 636.3L1101.2 642.4L1113.3 645.6L1125.4 643.6L1135.4 646.4L1137.4 650.4"/>
<path d="M1328.4 519.9L1322.7 515.6L1317 512.7L1311.3 508.5L1305.6 502.7L1301.3 497L1297 487.1L1292.7 477.1L1288.4 474.2L1279.9 472.8L1274.2 469.9L1269.9 467.8L1264.9 469.9L1261.3 474.2L1257.8 478.5L1258.5 484.2L1260.6 489.9L1265.6 495.6L1271.3 499.9L1273.5 505.6L1277 515.6L1279.9 524.2L1282 530.6L1272.7 534.1L1262.7 539.8L1251.3 545.6L1241.3 549.8L1229.9 554.1L1219.9 559.8L1211.4 565.5L1204.3 571.2L1198.5 576.9L1201.8 578L1195.7 588.1L1185.7 594.1L1173.6 598.9L1159.5 602.2L1147.5 605.4L1143.5 614.2L1141.5 630.3L1138.2 644.4L1137.4 650.4"/>
<path d="M1137.4 650.4L1129.4 658.5L1119.3 666.5L1113.3 674.5L1109.3 684.6L1105.3 690.6L1099.2 689.8L1092.4 686.6L1081.1 689.8L1071.1 692.6L1067.1 702.7L1063 714.7L1059 724.8L1051 726.8L1042.9 728.8L1040.9 738.9L1042.9 748.9L1040.9 757L1032.9 758.2L1024.9 755.8L1016.8 763L1008.8 771L998.7 775.9L992.7 783.1L989.5 795.2L984.6 803.2L976.6 809.2L966.5 813.3L960.5 821.3L956.5 831.3L950.5 843.4L944.4 853.5L942.4 867.5L938.4 883.6L935.3 891.7L930.5 905.3L933.4 913.1L941.2 920.9L948.9 928.6L956.7 935.4L962.2 940.3L963 950L962.2 957.8L959.6 962.7"/>
<path d="M1137.4 650.4L1145.5 652.4L1153.5 660.5L1159.5 670.5L1165.6 682.6L1169.6 690.6L1175.6 692.6L1175.6 700.7L1171.6 708.7L1165.6 712.7L1163.6 722.8L1163.6 734.9L1171.6 736.9L1173.6 742.9L1169.6 746.9L1169.6 755L1175.6 757L1181.7 752.9L1183.7 746.9L1187.7 752.9L1191.7 761L1199.8 767L1211.8 769L1223.9 766.2L1235.9 769L1246 773L1254 779.1L1258.1 787.1L1266.1 793.2L1274.1 799.2L1282.2 803.2L1298.3 803.2L1314.3 802.4L1316.4 811.2L1320.4 821.3L1326.4 831.3L1328.4 843.4"/>
<path d="M959.6 962.7L966.5 957.8L976.2 953.9L985.9 954.9L995.6 956.8L1005.4 953L1015.1 949.1L1024.8 949.6L1034.6 950L1042.3 952L1046.2 955.9L1051.1 955.9L1053 948.1L1054 928.6L1055 911.1L1059.8 905.3L1065.7 904.3L1073.5 904.3L1083.2 903.3L1091 905.3L1098.8 909.2L1104.6 913.1L1107.5 920.9L1110.4 918.9L1114.3 913.1L1122.1 903.3L1129.9 893.6L1140 888.8L1141.5 888.8L1146.3 889.6L1147.5 899.7L1149.5 911.8L1151.5 923.8L1157.5 933.9L1163.6 941.9L1167.6 952L1165.6 962L1161.6 970.1L1165.6 970L1171.6 978L1181.7 984.1L1193.7 988.1L1205.8 990.1L1215.8 992.1L1221.9 998.1L1227.9 1006.2L1231.9 1010.2"/>
<path d="M959.6 962.7L954.8 967.5L950.9 975.3L945.1 985.1L937.3 991.9L930.5 996.7"/>
<path d="M930.5 996.7L925.6 990.9L923.7 985.1L919.8 982.1L915.9 981.2L913.9 975.3L912 970.5L906.1 968.5L903.2 963.7L898.4 961.7L891.6 961.3L890.6 964.6L894.5 967.5L898.4 971.4L897.4 975.3L892.5 977.3L887.7 981.2L886.7 988.9L886.3 1000.6L887.1 1016.2L885.7 1029.8L888.6 1041.5L886.7 1049.3L883.8 1055.1L884.7 1064.8L885.7 1074.6L888.1 1054.4L884.9 1066.5L884.1 1075.3L876.1 1077.8L868 1078.6L860 1082.6"/>
<path d="M930.5 996.7L933.4 1004.5L935.3 1009.4L939.2 1008.4L943.1 1004.5L948.9 1006.5L954.8 1008.4L960.6 1006.5L964.5 1003.5L967.4 1008.4L968.4 1014.2L974.2 1014.2L980.1 1012.3L984 1014.2L984.9 1022L983 1027.9L978.1 1025.9L974.2 1024.9L973.9 1033.7L972.3 1041.5L969.4 1051.2L964.5 1059L960.6 1066.8L956.7 1080L956.5 1078.6L962.5 1088.6L972.6 1094.6L984.6 1098.7L996.7 1104.7L1004.7 1112.7L1010.8 1122.8L1014.8 1134.9L1018.8 1144.9L1022.8 1150.9L1024 1163L1022.8 1175.1L1026.9 1183.1L1033.7 1190.3"/>
</g>
<rect x="92.6" y="111.2" width="1439.9" height="1391.1" fill="none" stroke="#000" stroke-width="5.3" stroke-linejoin="round"/>
<g stroke="#000" stroke-width="4.4" stroke-linecap="round">
<line x1="172.4" y1="111.2" x2="172.4" y2="95.7"/>
<line x1="436.9" y1="111.2" x2="436.9" y2="95.7"/>
<line x1="701.4" y1="111.2" x2="701.4" y2="95.7"/>
<line x1="965.9" y1="111.2" x2="965.9" y2="95.7"/>
<line x1="1230.4" y1="111.2" x2="1230.4" y2="95.7"/>
<line x1="1494.9" y1="111.2" x2="1494.9" y2="95.7"/>
<line x1="96.3" y1="1502.3" x2="96.3" y2="1517.8"/>
<line x1="376" y1="1502.3" x2="376" y2="1517.8"/>
<line x1="655.7" y1="1502.3" x2="655.7" y2="1517.8"/>
<line x1="935.5" y1="1502.3" x2="935.5" y2="1517.8"/>
<line x1="1215.2" y1="1502.3" x2="1215.2" y2="1517.8"/>
<line x1="1494.9" y1="1502.3" x2="1494.9" y2="1517.8"/>
<line x1="92.6" y1="242.1" x2="77.1" y2="242.1"/>
<line x1="92.6" y1="589.2" x2="77.1" y2="589.2"/>
<line x1="92.6" y1="936.4" x2="77.1" y2="936.4"/>
<line x1="92.6" y1="1283.5" x2="77.1" y2="1283.5"/>
<line x1="1532.5" y1="283.8" x2="1548" y2="283.8"/>
<line x1="1532.5" y1="629.6" x2="1548" y2="629.6"/>
<line x1="1532.5" y1="975.4" x2="1548" y2="975.4"/>
<line x1="1532.5" y1="1321.2" x2="1548" y2="1321.2"/>
</g>
<g class="b" font-size="34.6" text-anchor="middle" letter-spacing="-1.1">
<text x="172.4" y="85.2">106°0'0"E</text>
<text x="436.9" y="85.2">107°0'0"E</text>
<text x="701.4" y="85.2">108°0'0"E</text>
<text x="965.9" y="85.2">109°0'0"E</text>
<text x="1230.4" y="85.2">110°0'0"E</text>
<text x="1494.9" y="85.2">111°0'0"E</text>
<text x="96.3" y="1551.5">106°0'0"E</text>
<text x="376" y="1551.5">107°0'0"E</text>
<text x="655.7" y="1551.5">108°0'0"E</text>
<text x="935.5" y="1551.5">109°0'0"E</text>
<text x="1215.2" y="1551.5">110°0'0"E</text>
<text x="1494.9" y="1551.5">111°0'0"E</text>
<text transform="translate(63.8 243.1) rotate(-90)">40°0'0"N</text>
<text transform="translate(63.8 590.2) rotate(-90)">39°0'0"N</text>
<text transform="translate(63.8 937.4) rotate(-90)">38°0'0"N</text>
<text transform="translate(63.8 1284.5) rotate(-90)">37°0'0"N</text>
<text transform="translate(1582.4 284.8) rotate(-90)">40°0'0"N</text>
<text transform="translate(1582.4 630.6) rotate(-90)">39°0'0"N</text>
<text transform="translate(1582.4 976.4) rotate(-90)">38°0'0"N</text>
<text transform="translate(1582.4 1322.2) rotate(-90)">37°0'0"N</text>
</g>
<text x="1402" y="247.6" font-size="76" class="b">(a)</text>
<rect x="988.2" y="1440.3" width="252.6" height="30.8" fill="#000" rx="1.5"/>
<rect x="1022.2" y="1443.9" width="28.6" height="23.6" fill="#fff"/>
<rect x="1085.3" y="1443.9" width="28.6" height="23.6" fill="#fff"/>
<text x="973.2 989.5" y="1428.6" font-size="31.5" class="r">40</text>
<text x="1035.3 1051.6" y="1428.6" font-size="31.5" class="r">20</text>
<text x="1107.1" y="1428.6" font-size="31.5" class="r">0</text>
<text x="1222.5 1238.8" y="1428.6" font-size="31.5" class="r">40</text>
<text x="1263.8" y="1428.6" font-size="27.25" style="font-family:'Liberation Mono',monospace" transform="translate(1263.8 1428.6) scale(1 1.12) translate(-1263.8 -1428.6)" stroke="#fff" stroke-width="0.7">Kilometers</text>
<!-- map b -->
<clipPath id="clip2"><path d="M401.4 1757.8L408.8 1768.7L418.9 1780.9L431.1 1793.2L447.4 1809.5L463.5 1823.6L473.8 1830.6L486 1833L496.1 1837.9L508.3 1850.1L520.5 1861.4L528.6 1863L540.8 1858.2L549 1858.2L557 1864.2L573.3 1876.5L589.6 1886.6L605.9 1894.8L616 1898L624.1 1896.8L627.4 1888.7L631.4 1885.8L636.3 1891.5L640.3 1900.8L650.5 1904.9L662.8 1906.1L670.8 1911L678.9 1917.1L695.2 1923.2L711.5 1929.3L727.7 1937.4L740 1943.5L748.1 1949.6L760.3 1949.6L772.4 1948.8L777.3 1953.7L782.6 1963.8L792.7 1965L805 1965.9L817.2 1970L829.3 1975.2L846.4 1976.8L858.6 1984.1L868.7 1990.3L874.8 1996.3L878.9 2004.4L885 2016.6L891.1 2028.9L897.2 2041L905.3 2051.2L913.4 2059.3L921.6 2058.5L931.7 2057.3L946 2059.3L951.2 2055.3L954 2041L957 2024.8L959.4 2004.4L962.2 1995.5L968.3 1991.5L980.5 1994.3L992.7 1997.1L1000.8 1997.1L1002 1984.1L1002.9 1967.9L1008.9 1965L1016.3 1961.8L1019.1 1951.7L1020.3 1941.4L1015.1 1935.4L1006.9 1932.1L1004.9 1925.2L1008.9 1919.1L1017.1 1919.1L1027.2 1919.9L1035.4 1921.1L1036.6 1931.3L1039.4 1939.4L1049.6 1941.4L1059.8 1943.5L1067.8 1947.6L1078.1 1946.8L1086.1 1941.4L1094.3 1939.4L1104.4 1941.4L1114.6 1943.5L1126.8 1940.2L1135 1938.6L1141 1943.5L1147.1 1950.8L1157.3 1952.5L1165.4 1949.6L1171.5 1953.7L1179.6 1961.8L1191.9 1967.9L1204 1972.8L1210.2 1972L1214.2 1965.9L1224.3 1963L1236.5 1958.9L1248.8 1954.5L1257.7 1951.7L1254.8 1961.8L1250.8 1974L1246.6 1986.2L1250.8 1996.3L1258.9 2004.4L1267 2006.5L1275.1 2000.4L1281.2 1992.3L1289.4 1987L1297.5 1989.1L1303.5 1998.4L1309.7 2010.6L1315.8 2020.7L1321.8 2030.9L1328 2041L1332 2049.2L1340.1 2061.3L1348.3 2068.7L1354.4 2072.7L1352.4 2077.6L1342.2 2076.8L1332 2078.4L1325.9 2083.8L1330 2087.8L1325.9 2091.8L1317.8 2093.9L1319.8 2101.9L1325.9 2112.2L1334.1 2126.4L1344.2 2144.7L1354.4 2154.8L1364.5 2164.9L1372.7 2173L1378.7 2183.2L1388.9 2187.3L1393 2199.5L1397 2211.6L1403.1 2223.8L1409.3 2231.9L1421.4 2231.1L1425.5 2240.1L1437.7 2242.1L1440.5 2252.2L1442.9 2266.5L1447.1 2274.7L1443.8 2282.8L1447.9 2293L1456 2301.1L1463.3 2309.1L1464.1 2319.3L1458 2329.5L1460 2339.7L1466.2 2351.9L1462 2364L1458 2376.3L1451.9 2384.3L1453.9 2394.5L1447.9 2400.6L1437.7 2398.6L1427.6 2404.7L1421.4 2412.8L1423.4 2422.9L1413.3 2429.1L1405.2 2433.2L1399.1 2443.3L1393 2449.4L1382.8 2447.3L1372.7 2449.4L1366.6 2457.5L1366.6 2469.7L1364.5 2479.8L1356.4 2481.1L1352.4 2473.8L1346.3 2467.6L1340.1 2461.6L1338.1 2453.5L1342.2 2445.3L1336.1 2437.2L1330 2433.2L1325.9 2427L1319.8 2422.9L1309.7 2425L1301.5 2429.1L1293.4 2434L1283.2 2431.1L1277.2 2429.1L1269.1 2435.2L1258.9 2439.2L1248.8 2441.2L1240.6 2437.2L1236.5 2434L1234.5 2441.2L1230.5 2449.4L1226.3 2457.5L1224.3 2469.7L1226.3 2483.9L1230.5 2498.1L1236.5 2510.4L1240.6 2522.5L1242.6 2532.7L1238.6 2536.8L1246.6 2540.8L1248.8 2549L1252.8 2548.9L1254.8 2552.9L1246.6 2554.9L1242.6 2559.1L1236.5 2565.2L1232.5 2573.2L1236.5 2579.4L1242.6 2583.4L1240.6 2589.5L1246.6 2593.6L1254 2599.7L1250.8 2607.8L1254 2613.9L1250.8 2620L1246.6 2615.9L1238.6 2609L1230.5 2605.8L1224.3 2599.7L1222.3 2589.5L1218.2 2589.5L1208 2593.6L1199.9 2597.6L1195.9 2603.8L1193.9 2599.7L1185.7 2597.6L1177.6 2599.7L1171.5 2609.8L1165.4 2615.9L1163.4 2626.1L1159.3 2620L1149.1 2624.1L1141 2622.1L1135 2624.1L1135.8 2630.1L1141 2636.2L1139 2648.4L1132.9 2655.3L1126.8 2662.7L1118.7 2658.6L1112.6 2662.7L1106.5 2670.8L1112.6 2678.1L1110.5 2685L1100.4 2691.1L1095.1 2700.1L1098.4 2703.3L1100.4 2711.4L1092.3 2719.6L1082.1 2725.7L1072 2724.4L1063.8 2727.7L1057.7 2737.9L1051.6 2743.1L1041.5 2746L1033.4 2752L1027.2 2762.2L1022 2771.5L1017.1 2776.5L1004.9 2780.5L992.7 2784.6L980.5 2786.6L968.3 2791.9L958.2 2788.6L950 2790.6L943.9 2797.6L935.8 2792.7L927.7 2797.6L917.6 2802.9L915.5 2812.2L907.3 2815.1L897.2 2815.1L891.1 2804.9L891.9 2815.1L889.1 2825.2L891.1 2833.4L896 2839.5L891.1 2846.3L878.9 2850.4L866.7 2855.7L858.6 2861.8L856.6 2869.9L862.7 2876L870.8 2882.1L874.8 2888.2L868.7 2896.4L862.7 2905.7L854.5 2901.6L846.4 2897.6L833.4 2892.3L821.2 2894.3L809 2897.6L796.8 2896.4L788.7 2892.3L782.6 2888.2L786.7 2885.3L794.8 2880.1L796.8 2869.9L797.7 2857.7L796.8 2845.5L793.5 2833.4L790.7 2819.1L786.7 2811L780.6 2804.9L784.6 2796.8L780.6 2788.6L774.4 2776.5L772.4 2764.3L768.4 2756.2L764.3 2756.2L760.3 2760.2L756.1 2754.1L748.1 2760.2L737.9 2766.3L727.7 2772.3L719.7 2776.5L712.3 2780.5L717.5 2788.6L723.7 2796.8L729.8 2800.8L731.8 2804.9L725.7 2808.9L717.5 2811L715.5 2819.1L711.5 2829.2L705.4 2833.4L699.2 2831.3L693.2 2825.2L683.1 2827.2L678.9 2835.4L678.1 2843.5L670.8 2847.5L658.6 2848.8L646.5 2849.6L640.3 2855.7L632.2 2859.8L624.1 2855.7L616 2853.7L613.9 2843.5L609.9 2831.3L607.9 2819.1L605.9 2811L599.7 2805.7L591.6 2806.9L583.5 2811L577.4 2819.1L574.1 2829.2L575.3 2833.4L571.3 2838.2L563.2 2843.5L559.1 2853.7L564.4 2855.7L568.5 2859.8L563.2 2865L553.8 2867.9L553 2874L559.1 2880.1L567.2 2885.3L575.3 2886.1L571.3 2892.3L564.4 2896.4L565.2 2906.5L567.2 2918.7L568.5 2930.9L563.2 2937L553 2945.1L544.9 2951.2L536.7 2949.1L524.6 2947.1L516.4 2945.1L512.4 2930.9L504.3 2924.8L496.1 2918.7L483.9 2919.5L471.7 2918.7L463.5 2913.8L455.5 2912.6L449.4 2908.5L447.4 2894.3L445.4 2878.1L446.6 2861.8L447.4 2845.5L444 2838.2L443.2 2847.5L437.2 2843.5L427.1 2837.4L418.9 2833.4L406.7 2833.4L394.5 2833.4L382.3 2836.6L372.2 2838.2L360 2837.4L349.8 2831.3L339.6 2829.2L339.6 2833.4L335.6 2839.5L329.5 2837.4L321.3 2831.3L311.2 2825.2L303 2827.2L303 2833.4L301 2843.5L297 2841.5L290.9 2833.4L280.7 2835.4L270.6 2831.3L262.4 2823.2L258.4 2815.1L260.4 2808.9L268.5 2802.9L270.6 2794.8L276.7 2790.6L280.7 2784.6L276.7 2776.5L268.5 2770.3L263.6 2760.2L264.4 2748L260.4 2737.9L258.4 2729.7L252.3 2725.7L246.1 2715.5L240.1 2707.4L238.1 2697.2L246.1 2691.1L252.3 2683L256.4 2670.8L262.4 2662.7L270.6 2656.5L280.7 2652.5L292.9 2651.3L305.9 2650.5L307.1 2644.4L309.2 2632.2L313.3 2622.1L321.3 2615.9L329.5 2607.8L337.6 2597.6L339.6 2587.5L333.6 2577.3L329.5 2565.2L327.4 2552.9L325.4 2549L319.3 2538.8L317.3 2528.7L323.4 2522.5L333.6 2514.4L335.6 2498.1L332.8 2481.9L331.6 2469.7L317.3 2461.6L301 2453.5L284.8 2443.3L270.6 2435.2L260.4 2429.1L250.3 2418.9L246.1 2408.7L250.3 2400.6L258.4 2392.5L268.5 2384.3L278.7 2376.3L286.8 2364L295 2347.7L301 2333.6L305.1 2319.3L303 2303.1L305.9 2284.8L311.2 2274.7L321.3 2270.5L327.4 2262.4L333.6 2252.2L341.7 2241.3L349.8 2231.9L362 2219.8L374.2 2207.6L384.3 2195.4L388.5 2179.2L386.4 2162.9L378.2 2152.7L368.1 2149.5L357.9 2146.6L357.9 2144.7L355.9 2136.5L353.9 2126.4L350.7 2116.2L345.7 2106.1L341.7 2097.9L343.7 2089.8L345.7 2079.6L347.8 2072.7L355.9 2070.3L366 2068.7L378.2 2068.7L390.5 2067.5L395.3 2063.3L400.6 2053.2L407.6 2044.3L414.8 2034.9L420.9 2024.8L422.9 2012.6L427.1 2004.4L431.9 1996.3L431.1 1988.2L427.1 1976L422.9 1963.8L420.9 1951.7L418.9 1935.4L416 1919.1L414 1902.8L411.6 1890.7L406.7 1882.5L400.6 1879.7L390.5 1881.7L380.3 1886.6L370.2 1890.7L360 1894.8L351.9 1898.8L344.9 1895.6L340.8 1892.7L342.9 1882.5L340.8 1873.6L333.6 1868.4L330.3 1861L335.6 1854.1L340.8 1845.9L341.7 1837.9L339.6 1827.6L336.8 1819.6L339.6 1812.7L345.7 1809.5L353.1 1805.3L350.7 1800.5L355.9 1795.2L362 1792.4L366 1785L372.2 1776.9L378.2 1767.9L386.4 1765.5L394.5 1762.7Z"/></clipPath>
<g clip-path="url(#clip2)"><g filter="url(#ramp2)">
<rect x="179.8" y="1700.3" width="1343.4" height="1308" fill="#590000"/>
<g filter="url(#blur2)">
<path d="M210 1730L562.8 1730L562.8 2194.8L484 2477.1L484 2609.9L417.6 2643.1L459 2975.1L210 2975.1Z" fill="#4a0000"/>
<path d="M562.8 1896.1L1490 1896.1L1490 2975.1L459 2975.1L417.6 2643.1L484 2609.9L484 2477.1L562.8 2194.8Z" fill="#660000"/>
<path d="M907.2 2062L957.1 2053.7L1006.9 2062L1073.3 2120.1L1081.6 2211.4L1123.1 2228.1L1073.3 2269.5L1073.3 2526.8L940.5 2535.2L857.5 2526.8L782.7 2560.1L749.6 2551.8L782.7 2410.7L791 2194.8L816 2145L874.1 2111.9Z" fill="#540000"/>
<ellipse cx="936.4" cy="2153.4" rx="68.5" ry="27.4" fill="#660000"/>
<ellipse cx="857.5" cy="2394" rx="73.1" ry="91.3" fill="#5c0000"/>
<ellipse cx="853.3" cy="2510.3" rx="77.6" ry="54.8" fill="#660000"/>
<ellipse cx="998.6" cy="2398.2" rx="82.2" ry="141.5" fill="#4c0000"/>
<ellipse cx="1019.3" cy="2041.3" rx="68.5" ry="68.5" fill="#6e0000"/>
<ellipse cx="1164.6" cy="2041.3" rx="91.3" ry="114.1" fill="#690000"/>
<ellipse cx="1164.6" cy="2103.6" rx="45.7" ry="27.4" fill="#750000"/>
<ellipse cx="1297.4" cy="2024.7" rx="54.8" ry="59.3" fill="#630000"/>
<ellipse cx="1210.3" cy="2236.4" rx="86.7" ry="82.2" fill="#610000"/>
<ellipse cx="1309.9" cy="2165.8" rx="68.5" ry="68.5" fill="#800000"/>
<ellipse cx="1330.6" cy="2294.5" rx="45.7" ry="73.1" fill="#940000"/>
<ellipse cx="1405.3" cy="2323.5" rx="63.9" ry="132.4" fill="#b20000"/>
<ellipse cx="1405.3" cy="2261.2" rx="36.5" ry="36.5" fill="#cc0000"/>
<ellipse cx="1392.9" cy="2377.5" rx="41.1" ry="36.5" fill="#cc0000"/>
<ellipse cx="1119" cy="2311.1" rx="50.2" ry="91.3" fill="#540000"/>
<ellipse cx="1206.1" cy="2373.3" rx="45.7" ry="68.5" fill="#6e0000"/>
<ellipse cx="1197.8" cy="2497.8" rx="54.8" ry="68.5" fill="#940000"/>
<ellipse cx="1077.4" cy="2647.2" rx="141.5" ry="132.4" fill="#5c0000"/>
<ellipse cx="1164.6" cy="2601.6" rx="45.7" ry="45.7" fill="#6b0000"/>
<ellipse cx="977.8" cy="2568.4" rx="31.9" ry="27.4" fill="#750000"/>
<ellipse cx="811.8" cy="2597.5" rx="68.5" ry="50.2" fill="#690000"/>
<ellipse cx="915.5" cy="2601.6" rx="45.7" ry="45.7" fill="#700000"/>
<ellipse cx="923.9" cy="2614.1" rx="18.3" ry="13.7" fill="#4c0000"/>
<ellipse cx="836.7" cy="2709.5" rx="95.9" ry="63.9" fill="#990000"/>
<ellipse cx="857.5" cy="2705.3" rx="54.8" ry="22.8" fill="#b80000"/>
<ellipse cx="965.4" cy="2717.8" rx="45.7" ry="82.2" fill="#540000"/>
<ellipse cx="845" cy="2829.9" rx="59.3" ry="68.5" fill="#8c0000"/>
<ellipse cx="832.6" cy="2867.2" rx="27.4" ry="27.4" fill="#d90000"/>
<path d="M317.1 1740L582.7 1862.6L580.7 1952.5L572.5 1993.3L562.3 2046.5L554.1 2099.5L550.1 2150.2L317.1 2150.2Z" fill="#4f0000"/>
<path d="M580.7 1903.4L845 1944.3L845 2150.2L550.1 2150.2L554.1 2099.5L562.3 2046.5L572.5 1993.3L580.7 1952.5Z" fill="#800000"/>
<ellipse cx="374.3" cy="1829.9" rx="40.4" ry="76.4" fill="#660000"/>
<ellipse cx="382.5" cy="1801.3" rx="13.4" ry="22.4" fill="#450000"/>
<ellipse cx="396.8" cy="1772.7" rx="11.2" ry="13.4" fill="#8e0000"/>
<ellipse cx="364.1" cy="1807.4" rx="11.2" ry="11.2" fill="#870000"/>
<ellipse cx="360.1" cy="1885.1" rx="20.2" ry="15.8" fill="#820000"/>
<ellipse cx="380.5" cy="1850.3" rx="33.7" ry="27" fill="#660000"/>
<ellipse cx="427.5" cy="1813.5" rx="18" ry="31.4" fill="#6a0000"/>
<ellipse cx="427.5" cy="1891.2" rx="13.4" ry="49.4" fill="#8e0000"/>
<ellipse cx="476.5" cy="1854.4" rx="36" ry="22.4" fill="#4c0000"/>
<ellipse cx="478.5" cy="1862.6" rx="20.2" ry="13.4" fill="#790000"/>
<ellipse cx="531.7" cy="1872.8" rx="24.8" ry="11.2" fill="#8e0000"/>
<ellipse cx="484.7" cy="1905.5" rx="45" ry="33.7" fill="#540000"/>
<ellipse cx="500.9" cy="1917.7" rx="27" ry="15.8" fill="#760000"/>
<ellipse cx="545.9" cy="1919.7" rx="22.4" ry="27" fill="#930000"/>
<ellipse cx="594.9" cy="1899.3" rx="31.4" ry="27" fill="#470000"/>
<ellipse cx="627.7" cy="1909.5" rx="31.4" ry="11.2" fill="#730000"/>
<ellipse cx="537.7" cy="1958.6" rx="40.4" ry="29.2" fill="#450000"/>
<ellipse cx="451.9" cy="1970.9" rx="18" ry="33.7" fill="#8e0000"/>
<ellipse cx="507.1" cy="1989.3" rx="15.8" ry="13.4" fill="#820000"/>
<ellipse cx="484.7" cy="1960.7" rx="18" ry="27" fill="#660000"/>
<ellipse cx="511.3" cy="2075.9" rx="56.2" ry="81.8" fill="#460000"/>
<ellipse cx="443.8" cy="2038.3" rx="27" ry="40.4" fill="#500000"/>
<ellipse cx="388.7" cy="2110.5" rx="42.7" ry="43.6" fill="#570000"/>
<ellipse cx="632.7" cy="1944.3" rx="57.3" ry="27" fill="#6b0000"/>
<ellipse cx="650.1" cy="1934.1" rx="29.2" ry="20.2" fill="#5c0000"/>
<ellipse cx="625.6" cy="1997.4" rx="56.2" ry="31.4" fill="#8c0000"/>
<ellipse cx="735.9" cy="1958.6" rx="56.2" ry="29.2" fill="#9e0000"/>
<ellipse cx="760.8" cy="1989.3" rx="92.6" ry="40.4" fill="#990000"/>
<ellipse cx="816" cy="2001.5" rx="31.9" ry="27" fill="#b80000"/>
<ellipse cx="601.1" cy="2044.3" rx="33.7" ry="24.8" fill="#b20000"/>
<ellipse cx="688.9" cy="2034.1" rx="63" ry="36" fill="#990000"/>
<ellipse cx="795.6" cy="2056.7" rx="54.4" ry="33.7" fill="#730000"/>
<ellipse cx="588.9" cy="2108.5" rx="38.2" ry="45.9" fill="#7a0000"/>
<ellipse cx="684.9" cy="2108.5" rx="67.4" ry="45.9" fill="#6b0000"/>
<ellipse cx="795.6" cy="2118.7" rx="54.4" ry="34.6" fill="#800000"/>
<ellipse cx="857.2" cy="2001.5" rx="13.4" ry="27" fill="#b80000"/>
<ellipse cx="865.4" cy="2046.5" rx="22.4" ry="22.4" fill="#730000"/>
<ellipse cx="879.8" cy="2104.5" rx="38.2" ry="50.3" fill="#730000"/>
<ellipse cx="926.8" cy="2118.7" rx="45" ry="34.6" fill="#520000"/>
<ellipse cx="977.8" cy="2104.5" rx="69.6" ry="50.3" fill="#660000"/>
<ellipse cx="943" cy="2085.3" rx="27" ry="24.8" fill="#800000"/>
<ellipse cx="1000.2" cy="2120.7" rx="36" ry="32.3" fill="#540000"/>
<ellipse cx="988" cy="2032.1" rx="31.4" ry="38.2" fill="#8c0000"/>
<path d="M1004.4 1919.7L1257.7 1944.3L1355.7 2075.1L1355.7 2150.2L1090.2 2150.2L1033 2107.7L1024.8 2066.9L1002.3 2001.5Z" fill="#6b0000"/>
<ellipse cx="1151.4" cy="2046.5" rx="67.4" ry="67.4" fill="#800000"/>
<ellipse cx="1049.2" cy="2066.9" rx="45" ry="45" fill="#5c0000"/>
<ellipse cx="1284.2" cy="2023.9" rx="78.6" ry="69.6" fill="#660000"/>
<ellipse cx="1294.4" cy="2098.3" rx="45" ry="57.1" fill="#730000"/>
<ellipse cx="1274" cy="2128.9" rx="89.9" ry="23.3" fill="#800000"/>
<path d="M215 2150L521.5 2150L500.9 2313.4L476.5 2476.8L329.4 2476.8L329.4 2560.2L215 2560.2Z" fill="#470000"/>
<ellipse cx="286.5" cy="2411.5" rx="33.7" ry="27" fill="#610000"/>
<ellipse cx="592.9" cy="2211.3" rx="78.6" ry="67.4" fill="#5c0000"/>
<ellipse cx="729.8" cy="2272.6" rx="71.9" ry="134.8" fill="#660000"/>
<ellipse cx="599.1" cy="2350.2" rx="71.9" ry="94.4" fill="#7a0000"/>
<ellipse cx="592.9" cy="2344.1" rx="33.7" ry="33.7" fill="#940000"/>
<ellipse cx="664.4" cy="2415.6" rx="45" ry="31.4" fill="#940000"/>
<ellipse cx="511.3" cy="2391" rx="33.7" ry="94.4" fill="#520000"/>
<ellipse cx="742" cy="2431.9" rx="40.4" ry="40.4" fill="#540000"/>
<ellipse cx="627.7" cy="2514.4" rx="166.3" ry="50.3" fill="#730000"/>
<ellipse cx="684.9" cy="2499.4" rx="89.9" ry="42.7" fill="#800000"/>
<ellipse cx="402.9" cy="2518.6" rx="80.9" ry="45.9" fill="#590000"/>
<ellipse cx="368.2" cy="2539" rx="33.7" ry="23.3" fill="#6b0000"/>
<ellipse cx="816" cy="2293" rx="31.9" ry="157.3" fill="#610000"/>
<ellipse cx="811.9" cy="2498.1" rx="36.4" ry="68.3" fill="#6e0000"/>
<ellipse cx="476.5" cy="2166.3" rx="18" ry="18" fill="#800000"/>
<ellipse cx="333.5" cy="2438" rx="40.4" ry="24.8" fill="#6b0000"/>
<ellipse cx="970.6" cy="2341.1" rx="121.6" ry="221.1" fill="#5c0000"/>
<ellipse cx="900.2" cy="2200.3" rx="44.3" ry="66.3" fill="#610000"/>
<ellipse cx="1030.9" cy="2270.6" rx="33.2" ry="33.2" fill="#4c0000"/>
<ellipse cx="930.4" cy="2381.2" rx="33.2" ry="44.3" fill="#4f0000"/>
<ellipse cx="890.2" cy="2480.8" rx="33.2" ry="65.2" fill="#780000"/>
<path d="M1137.4 2220.4L1165.6 2268.7L1169.6 2324.9L1213.8 2339.1L1282.2 2373.2L1314.4 2373.2L1328.4 2413.4L1246 2426.3L1233.9 2461.7L1258.1 2540.1L1161.5 2540.1L1141.4 2458.8L1053 2481.8L1048.9 2526L960.5 2532L932.4 2465.7L960.5 2391.3L1041 2326.9L1067 2272.7L1109.3 2254.6Z" fill="#570000"/>
<ellipse cx="1010.7" cy="2441.5" rx="55.3" ry="66.3" fill="#4c0000"/>
<ellipse cx="1111.3" cy="2180.2" rx="33.2" ry="44.3" fill="#610000"/>
<ellipse cx="1201.8" cy="2230.5" rx="66.3" ry="99.6" fill="#6e0000"/>
<ellipse cx="1366.6" cy="2310.9" rx="115" ry="188" fill="#990000"/>
<ellipse cx="1402.8" cy="2266.7" rx="44.3" ry="37.6" fill="#bd0000"/>
<ellipse cx="1372.7" cy="2391.3" rx="55.3" ry="55.3" fill="#b80000"/>
<ellipse cx="1258.1" cy="2240.5" rx="48.6" ry="66.3" fill="#6b0000"/>
<ellipse cx="1211.8" cy="2351.1" rx="55.3" ry="33.2" fill="#730000"/>
<ellipse cx="1227.9" cy="2460.6" rx="103.9" ry="87.3" fill="#940000"/>
<ellipse cx="1268.1" cy="2395.4" rx="50.8" ry="37.6" fill="#8c0000"/>
<ellipse cx="1101.2" cy="2504.9" rx="62" ry="38.7" fill="#610000"/>
<ellipse cx="347.8" cy="2703" rx="123.6" ry="157.3" fill="#4f0000"/>
<ellipse cx="378.4" cy="2723.4" rx="67.4" ry="112.4" fill="#5c0000"/>
<ellipse cx="278.3" cy="2743.8" rx="42.7" ry="89.9" fill="#4c0000"/>
<ellipse cx="407.1" cy="2580.4" rx="22.4" ry="22.4" fill="#450000"/>
<ellipse cx="288.5" cy="2756.1" rx="22.4" ry="22.4" fill="#8c0000"/>
<ellipse cx="327.3" cy="2678.5" rx="56.2" ry="18" fill="#6b0000"/>
<ellipse cx="378.4" cy="2590.6" rx="54" ry="33.7" fill="#540000"/>
<ellipse cx="468.3" cy="2611" rx="45" ry="33.7" fill="#990000"/>
<ellipse cx="478.5" cy="2617.2" rx="33.7" ry="27" fill="#b20000"/>
<path d="M480.5 2658L513.3 2617.2L562.3 2580.4L656.3 2621.2L656.3 2654L697.1 2674.4L738 2662.2L754.3 2752L713.4 2780.6L729.8 2813.3L676.7 2854.2L623.5 2858.3L603.1 2813.3L574.5 2821.5L566.3 2948.1L517.3 2948.1L447.9 2911.3L443.8 2764.3L460.1 2682.6Z" fill="#800000"/>
<ellipse cx="511.3" cy="2692.8" rx="56.2" ry="56.2" fill="#780000"/>
<ellipse cx="613.3" cy="2637.6" rx="56.2" ry="27" fill="#bd0000"/>
<ellipse cx="629.7" cy="2637.6" rx="29.2" ry="13.4" fill="#db0000"/>
<ellipse cx="603.1" cy="2698.9" rx="67.4" ry="49.4" fill="#ad0000"/>
<ellipse cx="545.9" cy="2633.6" rx="40.4" ry="22.4" fill="#940000"/>
<ellipse cx="709.4" cy="2717.3" rx="49.4" ry="51.6" fill="#940000"/>
<ellipse cx="715.5" cy="2717.3" rx="33.7" ry="15.8" fill="#ad0000"/>
<ellipse cx="541.9" cy="2778.6" rx="89.9" ry="38.2" fill="#800000"/>
<ellipse cx="674.6" cy="2799" rx="56.2" ry="60.6" fill="#8c0000"/>
<ellipse cx="511.3" cy="2866.4" rx="69.6" ry="89.9" fill="#610000"/>
<path d="M500.9 2560L742 2560L742 2600.8L795.2 2633.6L799.2 2658L738 2666.2L697.1 2674.4L656.3 2654L648.1 2621.2L566.3 2580.4Z" fill="#7a0000"/>
<ellipse cx="725.7" cy="2621.2" rx="76.4" ry="45" fill="#730000"/>
<ellipse cx="793.5" cy="2607" rx="56.6" ry="51.6" fill="#800000"/>
<ellipse cx="793.5" cy="2780.6" rx="56.6" ry="130.4" fill="#990000"/>
<ellipse cx="826.2" cy="2862.3" rx="20.7" ry="27" fill="#cc0000"/>
<ellipse cx="873.6" cy="2733.6" rx="31.4" ry="191" fill="#8c0000"/>
<ellipse cx="869.5" cy="2711.2" rx="27" ry="22.4" fill="#b20000"/>
<ellipse cx="902.2" cy="2641.8" rx="36" ry="45" fill="#6e0000"/>
<ellipse cx="857.2" cy="2852.1" rx="13.4" ry="51.6" fill="#bf0000"/>
<ellipse cx="959.4" cy="2723.4" rx="63" ry="89.9" fill="#590000"/>
<ellipse cx="926.8" cy="2756.1" rx="22.4" ry="27" fill="#4c0000"/>
<ellipse cx="977.8" cy="2772.4" rx="56.2" ry="18" fill="#8c0000"/>
<path d="M951.2 2596.8L971.6 2600.8L963.4 2613.2L943 2662.2L984 2686.6L1008.4 2735.7L1020.6 2772.4L1098.3 2711.2L1139.2 2641.8L1171.8 2609L1220.9 2588.6L1163.7 2560L918.6 2560L922.6 2584.6Z" fill="#610000"/>
<ellipse cx="1028.8" cy="2652" rx="67.4" ry="78.6" fill="#5c0000"/>
<ellipse cx="1151.4" cy="2621.2" rx="67.4" ry="67.4" fill="#730000"/>
<ellipse cx="1192.3" cy="2580.4" rx="67.4" ry="22.4" fill="#800000"/>
<ellipse cx="1233.1" cy="2590.6" rx="22.4" ry="33.7" fill="#850000"/>
<path d="M907.2 2062L957.1 2053.7L1006.9 2062L1073.3 2120.1L1081.6 2211.4L1123.1 2228.1L1073.3 2269.5L1006.9 2327.6L957.1 2394L923.9 2477.1L940.5 2535.2L857.5 2526.8L782.7 2560.1L749.6 2551.8L782.7 2410.7L791 2194.8L816 2145L874.1 2111.9Z" fill="#590000"/>
<ellipse cx="936.4" cy="2149.1" rx="68.5" ry="31.9" fill="#6e0000"/>
<ellipse cx="874.1" cy="2510.3" rx="73.1" ry="54.8" fill="#790000"/>
<ellipse cx="836.7" cy="2277.9" rx="41.1" ry="91.3" fill="#620000"/>
<ellipse cx="998.6" cy="2252.9" rx="63.9" ry="63.9" fill="#540000"/>
<path d="M957.1 1987.3L1006.9 1920.9L1040.1 1929.2L1148 1945.8L1255.9 1954.1L1280.8 2062L1272.5 2103.6L1131.4 2178.3L1123.1 2228.1L1073.3 2211.4L1073.3 2120.1L1006.9 2062L957.1 2053.7Z" fill="#800000"/>
<ellipse cx="1172.9" cy="2103.6" rx="54.8" ry="45.7" fill="#8e0000"/>
<ellipse cx="998.6" cy="2045.4" rx="45.7" ry="45.7" fill="#870000"/>
<ellipse cx="1260.1" cy="2028.9" rx="31.9" ry="54.8" fill="#730000"/>
<path d="M948.8 2535.2L1040.1 2526.8L1048.4 2485.4L1123.1 2468.7L1156.3 2543.5L1206.1 2568.4L1214.4 2593.2L1139.7 2626.5L1106.5 2684.6L1015.2 2767.6L990.3 2684.6L940.5 2643.1L957.1 2593.2L923.9 2576.7Z" fill="#680000"/>
<ellipse cx="1164.6" cy="2593.2" rx="45.7" ry="45.7" fill="#820000"/>
<ellipse cx="977.8" cy="2568.4" rx="31.9" ry="27.4" fill="#850000"/>
<ellipse cx="1035.9" cy="2643.1" rx="59.3" ry="45.7" fill="#5f0000"/>
<path d="M484 2477.1L558.7 2443.9L782.7 2427.3L782.7 2560.1L749.6 2626.5L658.2 2634.8L566.9 2576.7L492.3 2526.8Z" fill="#7c0000"/>
<ellipse cx="733" cy="2485.4" rx="63.9" ry="45.7" fill="#870000"/>
<ellipse cx="720.5" cy="2597.5" rx="68.5" ry="41.1" fill="#8c0000"/>
<ellipse cx="1405.3" cy="2261.2" rx="54.8" ry="54.8" fill="#cc0000"/>
<ellipse cx="1392.9" cy="2377.5" rx="50.2" ry="54.8" fill="#cc0000"/>
<ellipse cx="1388.7" cy="2319.3" rx="73.1" ry="136.9" fill="#b80000" opacity="0.5"/>
<ellipse cx="613.3" cy="2637.6" rx="51.6" ry="27" fill="#c20000"/>
<ellipse cx="629.7" cy="2637.6" rx="33.7" ry="18" fill="#d60000"/>
<ellipse cx="603.1" cy="2698.9" rx="67.4" ry="49.4" fill="#b20000" opacity="0.6"/>
<ellipse cx="857.5" cy="2705.3" rx="54.8" ry="22.8" fill="#c20000"/>
<ellipse cx="834.7" cy="2865.1" rx="34.3" ry="29.7" fill="#d60000"/>
<ellipse cx="845" cy="2850.6" rx="59.3" ry="45.7" fill="#a80000" opacity="0.6"/>
<ellipse cx="816" cy="2001.5" rx="31.9" ry="27" fill="#c20000"/>
<ellipse cx="601.1" cy="2044.3" rx="33.7" ry="24.8" fill="#b80000" opacity="0.7"/>
<ellipse cx="735.9" cy="1958.6" rx="56.2" ry="29.2" fill="#a30000" opacity="0.6"/>
</g>
<g filter="url(#blur2)" style="mix-blend-mode:lighten">
<path d="M210 1730L562.8 1730L562.8 1979L562.8 2194.8L550.4 2269.5L334.5 2228.1L210 2228.1Z" fill="#009900"/>
<path d="M210 2219.8L334.5 2228.1L550.4 2269.5L484 2477.1L484 2609.9L417.6 2643.1L442.4 2975.1L210 2975.1Z" fill="#007300"/>
<path d="M957.1 1987.3L1006.9 1920.9L1040.1 1929.2L1148 1945.8L1255.9 1954.1L1280.8 2062L1272.5 2103.6L1131.4 2178.3L1123.1 2228.1L1073.3 2211.4L1073.3 2120.1L1006.9 2062L957.1 2053.7Z" fill="#007300"/>
<path d="M948.8 2535.2L1040.1 2526.8L1048.4 2485.4L1123.1 2468.7L1156.3 2543.5L1206.1 2568.4L1214.4 2593.2L1139.7 2626.5L1106.5 2684.6L1015.2 2767.6L990.3 2684.6L940.5 2643.1L957.1 2593.2L923.9 2576.7Z" fill="#007300"/>
<path d="M484 2477.1L558.7 2443.9L782.7 2427.3L782.7 2560.1L749.6 2626.5L658.2 2634.8L566.9 2576.7L492.3 2526.8Z" fill="#008c00"/>
<path d="M480.5 2658L513.3 2617.2L562.3 2580.4L656.3 2621.2L656.3 2654L697.1 2674.4L738 2662.2L754.3 2752L713.4 2780.6L729.8 2813.3L676.7 2854.2L623.5 2858.3L603.1 2813.3L574.5 2821.5L566.3 2948.1L517.3 2948.1L447.9 2911.3L443.8 2764.3L460.1 2682.6Z" fill="#004700"/>
<path d="M741.3 2560.1L874.1 2543.5L940.5 2568.4L973.6 2643.1L1006.9 2767.6L899 2809.1L874.1 2892.1L782.7 2892.1L791 2809.1L749.6 2726.2Z" fill="#004000"/>
<path d="M1131.4 2178.3L1272.5 2103.6L1280.8 2045.4L1372.2 2194.8L1438.6 2228.1L1471.7 2327.6L1438.6 2427.3L1355.5 2477.1L1314.1 2385.8L1206.1 2344.3L1156.3 2311.1L1164.6 2261.2L1123.1 2228.1Z" fill="#001f00"/>
<path d="M1073.3 2269.5L1123.1 2228.1L1164.6 2261.2L1156.3 2311.1L1206.1 2344.3L1314.1 2385.8L1322.3 2419L1231 2443.9L1247.6 2551.8L1239.4 2609.9L1156.3 2543.5L1123.1 2468.7L1073.3 2477.1Z" fill="#004000"/>
<path d="M417.6 2643.1L484 2609.9L566.9 2585L658.2 2634.8L641.6 2651.4L558.7 2593.2L484 2643.1L459 2709.5L442.4 2809.1Z" fill="#004c00"/>
</g>
</g></g>
<g stroke="#8c8c8c" stroke-width="1.2" fill="none" opacity="0.85">
<line x1="151.4" y1="1680.9" x2="74.5" y2="3086.9"/>
<line x1="418.8" y1="1680.9" x2="357.2" y2="3086.9"/>
<line x1="686.1" y1="1680.9" x2="640" y2="3086.9"/>
<line x1="953.4" y1="1680.9" x2="922.7" y2="3086.9"/>
<line x1="1220.8" y1="1680.9" x2="1205.4" y2="3086.9"/>
<line x1="1488.1" y1="1680.9" x2="1488.1" y2="3086.9"/>
<path d="M70.8 1813.2A24610.4 24610.4 0 0 0 1526.1 1855.3"/>
<path d="M70.8 2164.1A24959.9 24959.9 0 0 0 1526.1 2204.8"/>
<path d="M70.8 2514.9A25309.4 25309.4 0 0 0 1526.1 2554.3"/>
<path d="M70.8 2865.8A25658.9 25658.9 0 0 0 1526.1 2903.8"/>
</g>
<g fill="none" stroke="#000" stroke-width="3.6" stroke-linejoin="round" stroke-linecap="round">
<path d="M401.4 1757.8L408.8 1768.7L418.9 1780.9L431.1 1793.2L447.4 1809.5L463.5 1823.6L473.8 1830.6L486 1833L496.1 1837.9L508.3 1850.1L520.5 1861.4L528.6 1863L540.8 1858.2L549 1858.2L557 1864.2L573.3 1876.5L589.6 1886.6L605.9 1894.8L616 1898L624.1 1896.8L627.4 1888.7L631.4 1885.8L636.3 1891.5L640.3 1900.8L650.5 1904.9L662.8 1906.1L670.8 1911L678.9 1917.1L695.2 1923.2L711.5 1929.3L727.7 1937.4L740 1943.5L748.1 1949.6L760.3 1949.6L772.4 1948.8L777.3 1953.7L782.6 1963.8L792.7 1965L805 1965.9L817.2 1970L829.3 1975.2L846.4 1976.8L858.6 1984.1L868.7 1990.3L874.8 1996.3L878.9 2004.4L885 2016.6L891.1 2028.9L897.2 2041L905.3 2051.2L913.4 2059.3L921.6 2058.5L931.7 2057.3L946 2059.3L951.2 2055.3L954 2041L957 2024.8L959.4 2004.4L962.2 1995.5L968.3 1991.5L980.5 1994.3L992.7 1997.1L1000.8 1997.1L1002 1984.1L1002.9 1967.9L1008.9 1965L1016.3 1961.8L1019.1 1951.7L1020.3 1941.4L1015.1 1935.4L1006.9 1932.1L1004.9 1925.2L1008.9 1919.1L1017.1 1919.1L1027.2 1919.9L1035.4 1921.1L1036.6 1931.3L1039.4 1939.4L1049.6 1941.4L1059.8 1943.5L1067.8 1947.6L1078.1 1946.8L1086.1 1941.4L1094.3 1939.4L1104.4 1941.4L1114.6 1943.5L1126.8 1940.2L1135 1938.6L1141 1943.5L1147.1 1950.8L1157.3 1952.5L1165.4 1949.6L1171.5 1953.7L1179.6 1961.8L1191.9 1967.9L1204 1972.8L1210.2 1972L1214.2 1965.9L1224.3 1963L1236.5 1958.9L1248.8 1954.5L1257.7 1951.7L1254.8 1961.8L1250.8 1974L1246.6 1986.2L1250.8 1996.3L1258.9 2004.4L1267 2006.5L1275.1 2000.4L1281.2 1992.3L1289.4 1987L1297.5 1989.1L1303.5 1998.4L1309.7 2010.6L1315.8 2020.7L1321.8 2030.9L1328 2041L1332 2049.2L1340.1 2061.3L1348.3 2068.7L1354.4 2072.7L1352.4 2077.6L1342.2 2076.8L1332 2078.4L1325.9 2083.8L1330 2087.8L1325.9 2091.8L1317.8 2093.9L1319.8 2101.9L1325.9 2112.2L1334.1 2126.4L1344.2 2144.7L1354.4 2154.8L1364.5 2164.9L1372.7 2173L1378.7 2183.2L1388.9 2187.3L1393 2199.5L1397 2211.6L1403.1 2223.8L1409.3 2231.9L1421.4 2231.1L1425.5 2240.1L1437.7 2242.1L1440.5 2252.2L1442.9 2266.5L1447.1 2274.7L1443.8 2282.8L1447.9 2293L1456 2301.1L1463.3 2309.1L1464.1 2319.3L1458 2329.5L1460 2339.7L1466.2 2351.9L1462 2364L1458 2376.3L1451.9 2384.3L1453.9 2394.5L1447.9 2400.6L1437.7 2398.6L1427.6 2404.7L1421.4 2412.8L1423.4 2422.9L1413.3 2429.1L1405.2 2433.2L1399.1 2443.3L1393 2449.4L1382.8 2447.3L1372.7 2449.4L1366.6 2457.5L1366.6 2469.7L1364.5 2479.8L1356.4 2481.1L1352.4 2473.8L1346.3 2467.6L1340.1 2461.6L1338.1 2453.5L1342.2 2445.3L1336.1 2437.2L1330 2433.2L1325.9 2427L1319.8 2422.9L1309.7 2425L1301.5 2429.1L1293.4 2434L1283.2 2431.1L1277.2 2429.1L1269.1 2435.2L1258.9 2439.2L1248.8 2441.2L1240.6 2437.2L1236.5 2434L1234.5 2441.2L1230.5 2449.4L1226.3 2457.5L1224.3 2469.7L1226.3 2483.9L1230.5 2498.1L1236.5 2510.4L1240.6 2522.5L1242.6 2532.7L1238.6 2536.8L1246.6 2540.8L1248.8 2549L1252.8 2548.9L1254.8 2552.9L1246.6 2554.9L1242.6 2559.1L1236.5 2565.2L1232.5 2573.2L1236.5 2579.4L1242.6 2583.4L1240.6 2589.5L1246.6 2593.6L1254 2599.7L1250.8 2607.8L1254 2613.9L1250.8 2620L1246.6 2615.9L1238.6 2609L1230.5 2605.8L1224.3 2599.7L1222.3 2589.5L1218.2 2589.5L1208 2593.6L1199.9 2597.6L1195.9 2603.8L1193.9 2599.7L1185.7 2597.6L1177.6 2599.7L1171.5 2609.8L1165.4 2615.9L1163.4 2626.1L1159.3 2620L1149.1 2624.1L1141 2622.1L1135 2624.1L1135.8 2630.1L1141 2636.2L1139 2648.4L1132.9 2655.3L1126.8 2662.7L1118.7 2658.6L1112.6 2662.7L1106.5 2670.8L1112.6 2678.1L1110.5 2685L1100.4 2691.1L1095.1 2700.1L1098.4 2703.3L1100.4 2711.4L1092.3 2719.6L1082.1 2725.7L1072 2724.4L1063.8 2727.7L1057.7 2737.9L1051.6 2743.1L1041.5 2746L1033.4 2752L1027.2 2762.2L1022 2771.5L1017.1 2776.5L1004.9 2780.5L992.7 2784.6L980.5 2786.6L968.3 2791.9L958.2 2788.6L950 2790.6L943.9 2797.6L935.8 2792.7L927.7 2797.6L917.6 2802.9L915.5 2812.2L907.3 2815.1L897.2 2815.1L891.1 2804.9L891.9 2815.1L889.1 2825.2L891.1 2833.4L896 2839.5L891.1 2846.3L878.9 2850.4L866.7 2855.7L858.6 2861.8L856.6 2869.9L862.7 2876L870.8 2882.1L874.8 2888.2L868.7 2896.4L862.7 2905.7L854.5 2901.6L846.4 2897.6L833.4 2892.3L821.2 2894.3L809 2897.6L796.8 2896.4L788.7 2892.3L782.6 2888.2L786.7 2885.3L794.8 2880.1L796.8 2869.9L797.7 2857.7L796.8 2845.5L793.5 2833.4L790.7 2819.1L786.7 2811L780.6 2804.9L784.6 2796.8L780.6 2788.6L774.4 2776.5L772.4 2764.3L768.4 2756.2L764.3 2756.2L760.3 2760.2L756.1 2754.1L748.1 2760.2L737.9 2766.3L727.7 2772.3L719.7 2776.5L712.3 2780.5L717.5 2788.6L723.7 2796.8L729.8 2800.8L731.8 2804.9L725.7 2808.9L717.5 2811L715.5 2819.1L711.5 2829.2L705.4 2833.4L699.2 2831.3L693.2 2825.2L683.1 2827.2L678.9 2835.4L678.1 2843.5L670.8 2847.5L658.6 2848.8L646.5 2849.6L640.3 2855.7L632.2 2859.8L624.1 2855.7L616 2853.7L613.9 2843.5L609.9 2831.3L607.9 2819.1L605.9 2811L599.7 2805.7L591.6 2806.9L583.5 2811L577.4 2819.1L574.1 2829.2L575.3 2833.4L571.3 2838.2L563.2 2843.5L559.1 2853.7L564.4 2855.7L568.5 2859.8L563.2 2865L553.8 2867.9L553 2874L559.1 2880.1L567.2 2885.3L575.3 2886.1L571.3 2892.3L564.4 2896.4L565.2 2906.5L567.2 2918.7L568.5 2930.9L563.2 2937L553 2945.1L544.9 2951.2L536.7 2949.1L524.6 2947.1L516.4 2945.1L512.4 2930.9L504.3 2924.8L496.1 2918.7L483.9 2919.5L471.7 2918.7L463.5 2913.8L455.5 2912.6L449.4 2908.5L447.4 2894.3L445.4 2878.1L446.6 2861.8L447.4 2845.5L444 2838.2L443.2 2847.5L437.2 2843.5L427.1 2837.4L418.9 2833.4L406.7 2833.4L394.5 2833.4L382.3 2836.6L372.2 2838.2L360 2837.4L349.8 2831.3L339.6 2829.2L339.6 2833.4L335.6 2839.5L329.5 2837.4L321.3 2831.3L311.2 2825.2L303 2827.2L303 2833.4L301 2843.5L297 2841.5L290.9 2833.4L280.7 2835.4L270.6 2831.3L262.4 2823.2L258.4 2815.1L260.4 2808.9L268.5 2802.9L270.6 2794.8L276.7 2790.6L280.7 2784.6L276.7 2776.5L268.5 2770.3L263.6 2760.2L264.4 2748L260.4 2737.9L258.4 2729.7L252.3 2725.7L246.1 2715.5L240.1 2707.4L238.1 2697.2L246.1 2691.1L252.3 2683L256.4 2670.8L262.4 2662.7L270.6 2656.5L280.7 2652.5L292.9 2651.3L305.9 2650.5L307.1 2644.4L309.2 2632.2L313.3 2622.1L321.3 2615.9L329.5 2607.8L337.6 2597.6L339.6 2587.5L333.6 2577.3L329.5 2565.2L327.4 2552.9L325.4 2549L319.3 2538.8L317.3 2528.7L323.4 2522.5L333.6 2514.4L335.6 2498.1L332.8 2481.9L331.6 2469.7L317.3 2461.6L301 2453.5L284.8 2443.3L270.6 2435.2L260.4 2429.1L250.3 2418.9L246.1 2408.7L250.3 2400.6L258.4 2392.5L268.5 2384.3L278.7 2376.3L286.8 2364L295 2347.7L301 2333.6L305.1 2319.3L303 2303.1L305.9 2284.8L311.2 2274.7L321.3 2270.5L327.4 2262.4L333.6 2252.2L341.7 2241.3L349.8 2231.9L362 2219.8L374.2 2207.6L384.3 2195.4L388.5 2179.2L386.4 2162.9L378.2 2152.7L368.1 2149.5L357.9 2146.6L357.9 2144.7L355.9 2136.5L353.9 2126.4L350.7 2116.2L345.7 2106.1L341.7 2097.9L343.7 2089.8L345.7 2079.6L347.8 2072.7L355.9 2070.3L366 2068.7L378.2 2068.7L390.5 2067.5L395.3 2063.3L400.6 2053.2L407.6 2044.3L414.8 2034.9L420.9 2024.8L422.9 2012.6L427.1 2004.4L431.9 1996.3L431.1 1988.2L427.1 1976L422.9 1963.8L420.9 1951.7L418.9 1935.4L416 1919.1L414 1902.8L411.6 1890.7L406.7 1882.5L400.6 1879.7L390.5 1881.7L380.3 1886.6L370.2 1890.7L360 1894.8L351.9 1898.8L344.9 1895.6L340.8 1892.7L342.9 1882.5L340.8 1873.6L333.6 1868.4L330.3 1861L335.6 1854.1L340.8 1845.9L341.7 1837.9L339.6 1827.6L336.8 1819.6L339.6 1812.7L345.7 1809.5L353.1 1805.3L350.7 1800.5L355.9 1795.2L362 1792.4L366 1785L372.2 1776.9L378.2 1767.9L386.4 1765.5L394.5 1762.7Z" stroke-width="3.9"/>
<path d="M341.7 2241.3L353.9 2248.2L370.2 2256.4L386.4 2266.5L402.6 2274.7L422.9 2284.8L447.4 2295L463.5 2301.1L475.8 2307.1L488 2309.9L504.3 2309.1L524.6 2306.3L544.9 2299L561.1 2288.8L573.3 2278.7L581.4 2270.5L587.6 2266.5L595.6 2266.5L603.8 2271.3L613.9 2271.3L626.2 2269.7L638.3 2271.3L644.5 2276.7L650.5 2288.8L658.6 2303.1L664.8 2319.3L670.8 2329.5L681.1 2339.7L691.2 2349.8L707.4 2362L723.7 2374.2L740 2384.3L756.1 2394.5L772.4 2404.7L780.6 2410.8"/>
<path d="M913.4 2059.3L907.3 2069.5L903.3 2077.6L895.1 2083.8L887 2093.9L881 2106.1L870.8 2110.9L858.6 2115L846.4 2120.2L837.5 2124.4L829.3 2129.2L823.3 2135.3L820 2144.7L819.2 2144.6L815.1 2156.8L809 2173L807 2189.3L807 2205.5L805 2213.7L796.8 2209.6L790.7 2207.6L789.9 2217.8L792.7 2234L796.8 2250.2L805 2262.4L807 2274.7L802.9 2290.8L796.8 2301.1L792.7 2315.3L790.7 2331.6L788.7 2347.7L784.6 2364L782.6 2380.3L780.6 2396.6L780.6 2410.8L784.6 2420.9L782.6 2437.2L778.6 2449.4L776.5 2457.5L779.8 2469.7L780.6 2485.9L778.6 2502.2L776.5 2514.4L772.4 2526.6L764.3 2536.8L752.1 2544.8L744 2549L742 2548.9L744 2561.1L744.8 2573.2L744 2589.5L746 2601.7L756.1 2607.8L768.4 2613.9L780.6 2620L792.7 2624.1L796.8 2634.2L796.8 2646.4L798.9 2655.3"/>
<path d="M331.6 2469.7L345.7 2475.8L362 2481.9L378.2 2485.9L390.5 2488L402.6 2485.1L414.8 2479.8L422.9 2477L431.1 2478.6L439.2 2488L447.4 2496.1L455.5 2501.4L467.7 2501.4L473.8 2504.2L479.8 2514.4L488 2524.5L496.1 2532.7L500.1 2538L496.1 2544.8L492.1 2549L496.1 2550.9L504.3 2554.9L514.4 2561.1L522.5 2569.2L532.7 2574L544.9 2576.5L555 2581.4L563.2 2582.2L569.3 2579.4L573.3 2585.5L581.4 2591.5L589.6 2596.8L599.7 2596.8L609.9 2599.7L622.1 2603.8L634.3 2609L644.5 2613.9L650.5 2624.1L656.6 2632.2L657.8 2642.4L657.8 2652.5L666.8 2658.6L674.9 2664.7L685.1 2668.7L693.2 2674.8L701.4 2670.8L711.5 2666.7L721.7 2662.7L727.7 2662.7L733.8 2666.7L740 2670.8L746 2664.7L752.1 2660.7L764.3 2657.8L776.5 2657.8L788.7 2656.5L798.9 2655.3L809 2656.5L813 2664.7L821.2 2667.5L833.4 2666.7L846.4 2665.9"/>
<path d="M563.2 2582.2L560.3 2591.5L557.8 2601.7L555 2611.8L544.9 2613.9L532.7 2615.9L522.5 2618L514.4 2622.1L511.6 2630.1L510.3 2638.3L502.2 2644.4L492.1 2645.2L483.1 2646.4L479.8 2656.5L475.8 2662.7L469.7 2666.7L461.5 2670L465.7 2676.9L473.8 2685L475 2695.1L467.7 2702.5L459.5 2709.4L452.2 2716.4L450.6 2727.7L448.2 2739.9L445.4 2752L443.2 2764.3L445.4 2776.5L451.4 2786.6L455.5 2796.8L451.4 2804.9L446.6 2806.9L449.4 2813L457.5 2821.2L460.3 2833.4L459.5 2843.5L453.4 2847.5L447.4 2845.5"/>
<path d="M740 2670.8L736.6 2674.8L737.9 2687L744 2699.3L750.1 2711.4L754.1 2723.6L757 2735.9L758.2 2748L756.1 2754.1"/>
<path d="M951.2 2055.3L964.2 2065.5L976.5 2071.5L982.5 2085.8L988.6 2091.8L994.8 2081.6L1000.8 2069.5L1008.9 2065.5L1017.1 2069.5L1025.2 2075.6L1033.4 2081.6L1035.4 2093.9L1033.4 2106.1L1037.4 2114.2L1045.5 2112.2L1053.7 2108.1L1061.8 2110.1L1072 2116.2L1082.1 2126.4L1088.2 2136.5L1090.2 2144.7L1084.1 2144.6L1088.2 2156.8L1089.4 2169L1084.1 2181.2L1078.1 2193.3L1074 2203.5L1078.1 2211.6L1090.2 2217.8L1102.4 2221L1114.6 2219L1124.7 2221.8L1126.8 2225.9"/>
<path d="M1319.8 2094L1314.1 2089.6L1308.3 2086.7L1302.5 2082.4L1296.8 2076.6L1292.4 2070.8L1288.1 2060.8L1283.7 2050.7L1279.4 2047.8L1270.8 2046.4L1265 2043.4L1260.7 2041.3L1255.6 2043.4L1252 2047.8L1248.5 2052.1L1249.2 2057.9L1251.3 2063.6L1256.3 2069.4L1262.1 2073.7L1264.3 2079.5L1267.9 2089.6L1270.8 2098.3L1272.9 2104.8L1263.5 2108.3L1253.4 2114.1L1241.9 2119.9L1231.8 2124.2L1220.3 2128.5L1210.2 2134.3L1201.6 2140.1L1194.4 2145.8L1188.5 2151.6L1191.9 2152.7L1185.7 2162.9L1175.6 2169L1163.4 2173.8L1149.1 2177.1L1137 2180.4L1132.9 2189.3L1130.9 2205.5L1127.6 2219.8L1126.8 2225.9"/>
<path d="M1126.8 2225.9L1118.7 2234L1108.5 2242.1L1102.4 2250.2L1098.4 2260.4L1094.3 2266.5L1088.2 2265.7L1081.3 2262.4L1069.9 2265.7L1059.8 2268.5L1055.7 2278.7L1051.6 2290.8L1047.5 2301.1L1039.4 2303.1L1031.3 2305.1L1029.2 2315.3L1031.3 2325.4L1029.2 2333.6L1021.2 2334.8L1013.1 2332.4L1004.9 2339.7L996.8 2347.7L986.6 2352.7L980.5 2360L977.3 2372.2L972.3 2380.3L964.2 2386.4L954 2390.5L948 2398.6L943.9 2408.7L937.9 2420.9L931.7 2431.1L929.7 2445.3L925.6 2461.6L922.5 2469.7L917.7 2483.5L920.6 2491.4L928.5 2499.3L936.3 2507L944.1 2513.9L949.7 2518.9L950.5 2528.7L949.7 2536.5L947.1 2541.5"/>
<path d="M1126.8 2225.9L1135 2227.9L1143 2236.1L1149.1 2246.2L1155.3 2258.4L1159.3 2266.5L1165.4 2268.5L1165.4 2276.7L1161.3 2284.8L1155.3 2288.8L1153.3 2299L1153.3 2311.3L1161.3 2313.3L1163.4 2319.3L1159.3 2323.4L1159.3 2331.6L1165.4 2333.6L1171.5 2329.5L1173.6 2323.4L1177.6 2329.5L1181.7 2337.6L1189.8 2343.7L1202 2345.7L1214.2 2342.9L1226.3 2345.7L1236.5 2349.8L1244.6 2355.9L1248.8 2364L1256.8 2370.2L1264.9 2376.3L1273.1 2380.3L1289.4 2380.3L1305.6 2379.5L1307.7 2388.4L1311.7 2398.6L1317.8 2408.7L1319.8 2420.9"/>
<path d="M947.1 2541.5L954 2536.5L963.8 2532.6L973.6 2533.6L983.5 2535.5L993.4 2531.7L1003.2 2527.8L1013 2528.3L1022.9 2528.7L1030.7 2530.7L1034.6 2534.6L1039.5 2534.6L1041.5 2526.7L1042.5 2507L1043.5 2489.3L1048.3 2483.5L1054.3 2482.5L1062.2 2482.5L1072 2481.5L1079.9 2483.5L1087.8 2487.4L1093.6 2491.4L1096.6 2499.3L1099.5 2497.2L1103.4 2491.4L1111.3 2481.5L1119.2 2471.7L1129.4 2466.8L1130.9 2466.8L1135.8 2467.6L1137 2477.8L1139 2490.1L1141 2502.2L1147.1 2512.4L1153.3 2520.5L1157.3 2530.7L1155.3 2540.8L1151.2 2549L1155.3 2548.9L1161.3 2557L1171.5 2563.1L1183.7 2567.2L1195.9 2569.2L1206 2571.2L1212.2 2577.3L1218.2 2585.5L1222.3 2589.5"/>
<path d="M947.1 2541.5L942.2 2546.4L938.3 2554.2L932.4 2564.1L924.5 2571L917.7 2575.9"/>
<path d="M917.7 2575.9L912.7 2570L910.8 2564.1L906.8 2561.1L902.9 2560.2L900.9 2554.2L899 2549.4L893 2547.4L890.1 2542.5L885.2 2540.5L878.3 2540.1L877.3 2543.4L881.3 2546.4L885.2 2550.3L884.2 2554.2L879.2 2556.3L874.4 2560.2L873.4 2568L873 2579.8L873.8 2595.6L872.4 2609.3L875.3 2621.1L873.4 2629L870.5 2634.9L871.4 2644.7L872.4 2654.6L874.8 2634.2L871.6 2646.4L870.8 2655.3L862.7 2657.8L854.5 2658.6L846.4 2662.7"/>
<path d="M917.7 2575.9L920.6 2583.7L922.5 2588.7L926.4 2587.7L930.4 2583.7L936.3 2585.8L942.2 2587.7L948.1 2585.8L952 2582.7L955 2587.7L956 2593.6L961.8 2593.6L967.8 2591.6L971.7 2593.6L972.6 2601.4L970.7 2607.4L965.8 2605.4L961.8 2604.4L961.5 2613.3L959.9 2621.1L957 2630.9L952 2638.8L948.1 2646.7L944.1 2660.1L943.9 2658.6L950 2668.7L960.2 2674.8L972.3 2679L984.6 2685L992.7 2693.1L998.8 2703.3L1002.9 2715.5L1006.9 2725.7L1010.9 2731.7L1012.2 2743.9L1010.9 2756.2L1015.1 2764.3L1022 2771.5"/>
</g>
<rect x="70.8" y="1680.9" width="1455.3" height="1406" fill="none" stroke="#000" stroke-width="5.3" stroke-linejoin="round"/>
<g stroke="#000" stroke-width="4.4" stroke-linecap="round">
<line x1="151.4" y1="1680.9" x2="151.4" y2="1665.4"/>
<line x1="418.8" y1="1680.9" x2="418.8" y2="1665.4"/>
<line x1="686.1" y1="1680.9" x2="686.1" y2="1665.4"/>
<line x1="953.4" y1="1680.9" x2="953.4" y2="1665.4"/>
<line x1="1220.8" y1="1680.9" x2="1220.8" y2="1665.4"/>
<line x1="1488.1" y1="1680.9" x2="1488.1" y2="1665.4"/>
<line x1="74.5" y1="3086.9" x2="74.5" y2="3102.4"/>
<line x1="357.2" y1="3086.9" x2="357.2" y2="3102.4"/>
<line x1="640" y1="3086.9" x2="640" y2="3102.4"/>
<line x1="922.7" y1="3086.9" x2="922.7" y2="3102.4"/>
<line x1="1205.4" y1="3086.9" x2="1205.4" y2="3102.4"/>
<line x1="1488.1" y1="3086.9" x2="1488.1" y2="3102.4"/>
<line x1="70.8" y1="1813.2" x2="55.3" y2="1813.2"/>
<line x1="70.8" y1="2164.1" x2="55.3" y2="2164.1"/>
<line x1="70.8" y1="2514.9" x2="55.3" y2="2514.9"/>
<line x1="70.8" y1="2865.8" x2="55.3" y2="2865.8"/>
<line x1="1526.1" y1="1855.3" x2="1541.6" y2="1855.3"/>
<line x1="1526.1" y1="2204.8" x2="1541.6" y2="2204.8"/>
<line x1="1526.1" y1="2554.3" x2="1541.6" y2="2554.3"/>
<line x1="1526.1" y1="2903.8" x2="1541.6" y2="2903.8"/>
</g>
<g class="b" font-size="34.6" text-anchor="middle" letter-spacing="-1.1">
<text x="151.4" y="1654.9">106°0'0"E</text>
<text x="418.8" y="1654.9">107°0'0"E</text>
<text x="686.1" y="1654.9">108°0'0"E</text>
<text x="953.4" y="1654.9">109°0'0"E</text>
<text x="1220.8" y="1654.9">110°0'0"E</text>
<text x="1488.1" y="1654.9">111°0'0"E</text>
<text x="74.5" y="3136.1">106°0'0"E</text>
<text x="357.2" y="3136.1">107°0'0"E</text>
<text x="640" y="3136.1">108°0'0"E</text>
<text x="922.7" y="3136.1">109°0'0"E</text>
<text x="1205.4" y="3136.1">110°0'0"E</text>
<text x="1488.1" y="3136.1">111°0'0"E</text>
<text transform="translate(42 1814.2) rotate(-90)">40°0'0"N</text>
<text transform="translate(42 2165.1) rotate(-90)">39°0'0"N</text>
<text transform="translate(42 2515.9) rotate(-90)">38°0'0"N</text>
<text transform="translate(42 2866.8) rotate(-90)">37°0'0"N</text>
<text transform="translate(1576 1856.3) rotate(-90)">40°0'0"N</text>
<text transform="translate(1576 2205.8) rotate(-90)">39°0'0"N</text>
<text transform="translate(1576 2555.3) rotate(-90)">38°0'0"N</text>
<text transform="translate(1576 2904.8) rotate(-90)">37°0'0"N</text>
</g>
<text x="1390.1" y="1781.7" font-size="76" class="b">(b)</text>
<rect x="976" y="3024.2" width="255.3" height="30.8" fill="#000" rx="1.5"/>
<rect x="1010.3" y="3027.8" width="28.9" height="23.6" fill="#fff"/>
<rect x="1074.1" y="3027.8" width="28.9" height="23.6" fill="#fff"/>
<text x="960.9 977.2" y="3012.5" font-size="31.5" class="r">40</text>
<text x="1023.8 1040.1" y="3012.5" font-size="31.5" class="r">20</text>
<text x="1096.3" y="3012.5" font-size="31.5" class="r">0</text>
<text x="1213 1229.3" y="3012.5" font-size="31.5" class="r">40</text>
<text x="1254.3" y="3012.5" font-size="27.25" style="font-family:'Liberation Mono',monospace" transform="translate(1254.3 3012.5) scale(1 1.12) translate(-1254.3 -3012.5)" stroke="#fff" stroke-width="0.7">Kilometers</text>
<!-- legends -->
<rect x="1638.7" y="99" width="372" height="1418.7" fill="#fff" stroke="#000" stroke-width="5.3"/>
<text x="1673.6" y="155.9" font-size="61" class="r">Legend</text>
<text x="1672.6" y="214" font-size="44.4" class="r">Coverage range</text>
<rect x="1661.5" y="236.2" width="93.6" height="46.4" fill="#fffcff" stroke="#6e6e6e" stroke-width="2.6"/>
<text x="1772.3" y="271.3" font-size="33.5" class="r" stroke="#000" stroke-width="0.3">0</text>
<text x="1857.3" y="267.5" font-size="35.3" class="r" stroke="#000" stroke-width="0.45">—</text>
<text x="1919 1937.7 1951.4 1967.6" y="271.3" font-size="33.5" class="r" stroke="#000" stroke-width="0.3">0.05</text>
<rect x="1661.5" y="299.6" width="93.6" height="46.4" fill="#ffb3ff" stroke="#6e6e6e" stroke-width="2.6"/>
<text x="1772.3 1791 1804.7 1820.9" y="334.8" font-size="33.5" class="r" stroke="#000" stroke-width="0.3">0.05</text>
<text x="1857.3" y="330.9" font-size="35.3" class="r" stroke="#000" stroke-width="0.45">—</text>
<text x="1919 1937.7 1951.4" y="334.8" font-size="33.5" class="r" stroke="#000" stroke-width="0.3">0.1</text>
<rect x="1661.5" y="363.1" width="93.6" height="46.4" fill="#ff5cff" stroke="#6e6e6e" stroke-width="2.6"/>
<text x="1772.3 1791 1804.7 1820.9" y="398.2" font-size="33.5" class="r" stroke="#000" stroke-width="0.3">0.10</text>
<text x="1857.3" y="394.4" font-size="35.3" class="r" stroke="#000" stroke-width="0.45">—</text>
<text x="1919 1937.7 1951.4 1967.6" y="398.2" font-size="33.5" class="r" stroke="#000" stroke-width="0.3">0.15</text>
<rect x="1661.5" y="426.6" width="93.6" height="46.4" fill="#f500f5" stroke="#6e6e6e" stroke-width="2.6"/>
<text x="1772.3 1791 1804.7 1820.9" y="461.7" font-size="33.5" class="r" stroke="#000" stroke-width="0.3">0.15</text>
<text x="1857.3" y="457.9" font-size="35.3" class="r" stroke="#000" stroke-width="0.45">—</text>
<text x="1919 1937.7 1951.4" y="461.7" font-size="33.5" class="r" stroke="#000" stroke-width="0.3">0.2</text>
<rect x="1661.5" y="490" width="93.6" height="46.4" fill="#a600ff" stroke="#6e6e6e" stroke-width="2.6"/>
<text x="1772.3 1791 1804.7" y="525.1" font-size="33.5" class="r" stroke="#000" stroke-width="0.3">0.2</text>
<text x="1857.3" y="521.3" font-size="35.3" class="r" stroke="#000" stroke-width="0.45">—</text>
<text x="1919 1937.7 1951.4 1967.6" y="525.1" font-size="33.5" class="r" stroke="#000" stroke-width="0.3">0.25</text>
<rect x="1661.5" y="553.5" width="93.6" height="46.4" fill="#4d00ff" stroke="#6e6e6e" stroke-width="2.6"/>
<text x="1772.3 1791 1804.7 1820.9" y="588.5" font-size="33.5" class="r" stroke="#000" stroke-width="0.3">0.25</text>
<text x="1857.3" y="584.8" font-size="35.3" class="r" stroke="#000" stroke-width="0.45">—</text>
<text x="1919 1937.7 1951.4" y="588.5" font-size="33.5" class="r" stroke="#000" stroke-width="0.3">0.3</text>
<rect x="1661.5" y="616.9" width="93.6" height="46.4" fill="#2e45ff" stroke="#6e6e6e" stroke-width="2.6"/>
<text x="1772.3 1791 1804.7" y="652" font-size="33.5" class="r" stroke="#000" stroke-width="0.3">0.3</text>
<text x="1857.3" y="648.2" font-size="35.3" class="r" stroke="#000" stroke-width="0.45">—</text>
<text x="1919 1937.7 1951.4 1967.6" y="652" font-size="33.5" class="r" stroke="#000" stroke-width="0.3">0.35</text>
<rect x="1661.5" y="680.4" width="93.6" height="46.4" fill="#3d96ff" stroke="#6e6e6e" stroke-width="2.6"/>
<text x="1772.3 1791 1804.7 1820.9" y="715.5" font-size="33.5" class="r" stroke="#000" stroke-width="0.3">0.35</text>
<text x="1857.3" y="711.7" font-size="35.3" class="r" stroke="#000" stroke-width="0.45">—</text>
<text x="1919 1937.7 1951.4" y="715.5" font-size="33.5" class="r" stroke="#000" stroke-width="0.3">0.4</text>
<rect x="1661.5" y="743.8" width="93.6" height="46.4" fill="#1ceeff" stroke="#6e6e6e" stroke-width="2.6"/>
<text x="1772.3 1791 1804.7" y="778.9" font-size="33.5" class="r" stroke="#000" stroke-width="0.3">0.4</text>
<text x="1857.3" y="775.1" font-size="35.3" class="r" stroke="#000" stroke-width="0.45">—</text>
<text x="1919 1937.7 1951.4 1967.6" y="778.9" font-size="33.5" class="r" stroke="#000" stroke-width="0.3">0.45</text>
<rect x="1661.5" y="807.3" width="93.6" height="46.4" fill="#2effc3" stroke="#6e6e6e" stroke-width="2.6"/>
<text x="1772.3 1791 1804.7 1820.9" y="842.4" font-size="33.5" class="r" stroke="#000" stroke-width="0.3">0.45</text>
<text x="1857.3" y="838.6" font-size="35.3" class="r" stroke="#000" stroke-width="0.45">—</text>
<text x="1919 1937.7 1951.4" y="842.4" font-size="33.5" class="r" stroke="#000" stroke-width="0.3">0.5</text>
<rect x="1661.5" y="870.7" width="93.6" height="46.4" fill="#2eff73" stroke="#6e6e6e" stroke-width="2.6"/>
<text x="1772.3 1791 1804.7" y="905.8" font-size="33.5" class="r" stroke="#000" stroke-width="0.3">0.5</text>
<text x="1857.3" y="902" font-size="35.3" class="r" stroke="#000" stroke-width="0.45">—</text>
<text x="1919 1937.7 1951.4 1967.6" y="905.8" font-size="33.5" class="r" stroke="#000" stroke-width="0.3">0.55</text>
<rect x="1661.5" y="934.2" width="93.6" height="46.4" fill="#1aff00" stroke="#6e6e6e" stroke-width="2.6"/>
<text x="1772.3 1791 1804.7 1820.9" y="969.2" font-size="33.5" class="r" stroke="#000" stroke-width="0.3">0.55</text>
<text x="1857.3" y="965.5" font-size="35.3" class="r" stroke="#000" stroke-width="0.45">—</text>
<text x="1919 1937.7 1951.4" y="969.2" font-size="33.5" class="r" stroke="#000" stroke-width="0.3">0.6</text>
<rect x="1661.5" y="997.6" width="93.6" height="46.4" fill="#88ff00" stroke="#6e6e6e" stroke-width="2.6"/>
<text x="1772.3 1791 1804.7" y="1032.7" font-size="33.5" class="r" stroke="#000" stroke-width="0.3">0.6</text>
<text x="1857.3" y="1028.9" font-size="35.3" class="r" stroke="#000" stroke-width="0.45">—</text>
<text x="1919 1937.7 1951.4 1967.6" y="1032.7" font-size="33.5" class="r" stroke="#000" stroke-width="0.3">0.65</text>
<rect x="1661.5" y="1061" width="93.6" height="46.4" fill="#d2ff0a" stroke="#6e6e6e" stroke-width="2.6"/>
<text x="1772.3 1791 1804.7 1820.9" y="1096.1" font-size="33.5" class="r" stroke="#000" stroke-width="0.3">0.65</text>
<text x="1857.3" y="1092.3" font-size="35.3" class="r" stroke="#000" stroke-width="0.45">—</text>
<text x="1919 1937.7 1951.4" y="1096.1" font-size="33.5" class="r" stroke="#000" stroke-width="0.3">0.7</text>
<rect x="1661.5" y="1124.5" width="93.6" height="46.4" fill="#ffee00" stroke="#6e6e6e" stroke-width="2.6"/>
<text x="1772.3 1791 1804.7" y="1159.6" font-size="33.5" class="r" stroke="#000" stroke-width="0.3">0.7</text>
<text x="1857.3" y="1155.8" font-size="35.3" class="r" stroke="#000" stroke-width="0.45">—</text>
<text x="1919 1937.7 1951.4 1967.6" y="1159.6" font-size="33.5" class="r" stroke="#000" stroke-width="0.3">0.75</text>
<rect x="1661.5" y="1188" width="93.6" height="46.4" fill="#ffbb00" stroke="#6e6e6e" stroke-width="2.6"/>
<text x="1772.3 1791 1804.7 1820.9" y="1223" font-size="33.5" class="r" stroke="#000" stroke-width="0.3">0.75</text>
<text x="1857.3" y="1219.2" font-size="35.3" class="r" stroke="#000" stroke-width="0.45">—</text>
<text x="1919 1937.7 1951.4" y="1223" font-size="33.5" class="r" stroke="#000" stroke-width="0.3">0.8</text>
<rect x="1661.5" y="1251.4" width="93.6" height="46.4" fill="#ff8c00" stroke="#6e6e6e" stroke-width="2.6"/>
<text x="1772.3 1791 1804.7" y="1286.5" font-size="33.5" class="r" stroke="#000" stroke-width="0.3">0.8</text>
<text x="1857.3" y="1282.7" font-size="35.3" class="r" stroke="#000" stroke-width="0.45">—</text>
<text x="1919 1937.7 1951.4 1967.6" y="1286.5" font-size="33.5" class="r" stroke="#000" stroke-width="0.3">0.85</text>
<rect x="1661.5" y="1314.9" width="93.6" height="46.4" fill="#e06000" stroke="#6e6e6e" stroke-width="2.6"/>
<text x="1772.3 1791 1804.7 1820.9" y="1350" font-size="33.5" class="r" stroke="#000" stroke-width="0.3">0.85</text>
<text x="1857.3" y="1346.2" font-size="35.3" class="r" stroke="#000" stroke-width="0.45">—</text>
<text x="1919 1937.7 1951.4" y="1350" font-size="33.5" class="r" stroke="#000" stroke-width="0.3">0.9</text>
<rect x="1661.5" y="1378.3" width="93.6" height="46.4" fill="#ad3500" stroke="#6e6e6e" stroke-width="2.6"/>
<text x="1772.3 1791 1804.7" y="1413.4" font-size="33.5" class="r" stroke="#000" stroke-width="0.3">0.9</text>
<text x="1857.3" y="1409.6" font-size="35.3" class="r" stroke="#000" stroke-width="0.45">—</text>
<text x="1919 1937.7 1951.4 1967.6" y="1413.4" font-size="33.5" class="r" stroke="#000" stroke-width="0.3">0.95</text>
<rect x="1661.5" y="1441.8" width="93.6" height="46.4" fill="#800000" stroke="#6e6e6e" stroke-width="2.6"/>
<text x="1772.3 1791 1804.7 1820.9" y="1476.8" font-size="33.5" class="r" stroke="#000" stroke-width="0.3">0.95</text>
<text x="1857.3" y="1473" font-size="35.3" class="r" stroke="#000" stroke-width="0.45">—</text>
<text x="1919" y="1476.8" font-size="33.5" class="r" stroke="#000" stroke-width="0.3">1</text>
<rect x="1638.7" y="1676" width="372" height="1418.7" fill="#fff" stroke="#000" stroke-width="5.3"/>
<text x="1673.6" y="1732.9" font-size="61" class="r">Legend</text>
<text x="1672.6" y="1791" font-size="44.4" class="r">Coverage range</text>
<rect x="1661.5" y="1813.2" width="93.6" height="46.4" fill="#fffcff" stroke="#6e6e6e" stroke-width="2.6"/>
<text x="1772.3" y="1848.3" font-size="33.5" class="r" stroke="#000" stroke-width="0.3">0</text>
<text x="1857.3" y="1844.5" font-size="35.3" class="r" stroke="#000" stroke-width="0.45">—</text>
<text x="1919 1937.7 1951.4 1967.6" y="1848.3" font-size="33.5" class="r" stroke="#000" stroke-width="0.3">0.05</text>
<rect x="1661.5" y="1876.7" width="93.6" height="46.4" fill="#ffb3ff" stroke="#6e6e6e" stroke-width="2.6"/>
<text x="1772.3 1791 1804.7 1820.9" y="1911.8" font-size="33.5" class="r" stroke="#000" stroke-width="0.3">0.05</text>
<text x="1857.3" y="1908" font-size="35.3" class="r" stroke="#000" stroke-width="0.45">—</text>
<text x="1919 1937.7 1951.4" y="1911.8" font-size="33.5" class="r" stroke="#000" stroke-width="0.3">0.1</text>
<rect x="1661.5" y="1940.1" width="93.6" height="46.4" fill="#ff5cff" stroke="#6e6e6e" stroke-width="2.6"/>
<text x="1772.3 1791 1804.7 1820.9" y="1975.2" font-size="33.5" class="r" stroke="#000" stroke-width="0.3">0.10</text>
<text x="1857.3" y="1971.4" font-size="35.3" class="r" stroke="#000" stroke-width="0.45">—</text>
<text x="1919 1937.7 1951.4 1967.6" y="1975.2" font-size="33.5" class="r" stroke="#000" stroke-width="0.3">0.15</text>
<rect x="1661.5" y="2003.5" width="93.6" height="46.4" fill="#f500f5" stroke="#6e6e6e" stroke-width="2.6"/>
<text x="1772.3 1791 1804.7 1820.9" y="2038.6" font-size="33.5" class="r" stroke="#000" stroke-width="0.3">0.15</text>
<text x="1857.3" y="2034.8" font-size="35.3" class="r" stroke="#000" stroke-width="0.45">—</text>
<text x="1919 1937.7 1951.4" y="2038.6" font-size="33.5" class="r" stroke="#000" stroke-width="0.3">0.2</text>
<rect x="1661.5" y="2067" width="93.6" height="46.4" fill="#a600ff" stroke="#6e6e6e" stroke-width="2.6"/>
<text x="1772.3 1791 1804.7" y="2102.1" font-size="33.5" class="r" stroke="#000" stroke-width="0.3">0.2</text>
<text x="1857.3" y="2098.3" font-size="35.3" class="r" stroke="#000" stroke-width="0.45">—</text>
<text x="1919 1937.7 1951.4 1967.6" y="2102.1" font-size="33.5" class="r" stroke="#000" stroke-width="0.3">0.25</text>
<rect x="1661.5" y="2130.4" width="93.6" height="46.4" fill="#4d00ff" stroke="#6e6e6e" stroke-width="2.6"/>
<text x="1772.3 1791 1804.7 1820.9" y="2165.6" font-size="33.5" class="r" stroke="#000" stroke-width="0.3">0.25</text>
<text x="1857.3" y="2161.8" font-size="35.3" class="r" stroke="#000" stroke-width="0.45">—</text>
<text x="1919 1937.7 1951.4" y="2165.6" font-size="33.5" class="r" stroke="#000" stroke-width="0.3">0.3</text>
<rect x="1661.5" y="2193.9" width="93.6" height="46.4" fill="#2e45ff" stroke="#6e6e6e" stroke-width="2.6"/>
<text x="1772.3 1791 1804.7" y="2229" font-size="33.5" class="r" stroke="#000" stroke-width="0.3">0.3</text>
<text x="1857.3" y="2225.2" font-size="35.3" class="r" stroke="#000" stroke-width="0.45">—</text>
<text x="1919 1937.7 1951.4 1967.6" y="2229" font-size="33.5" class="r" stroke="#000" stroke-width="0.3">0.35</text>
<rect x="1661.5" y="2257.3" width="93.6" height="46.4" fill="#3d96ff" stroke="#6e6e6e" stroke-width="2.6"/>
<text x="1772.3 1791 1804.7 1820.9" y="2292.5" font-size="33.5" class="r" stroke="#000" stroke-width="0.3">0.35</text>
<text x="1857.3" y="2288.7" font-size="35.3" class="r" stroke="#000" stroke-width="0.45">—</text>
<text x="1919 1937.7 1951.4" y="2292.5" font-size="33.5" class="r" stroke="#000" stroke-width="0.3">0.4</text>
<rect x="1661.5" y="2320.8" width="93.6" height="46.4" fill="#1ceeff" stroke="#6e6e6e" stroke-width="2.6"/>
<text x="1772.3 1791 1804.7" y="2355.9" font-size="33.5" class="r" stroke="#000" stroke-width="0.3">0.4</text>
<text x="1857.3" y="2352.1" font-size="35.3" class="r" stroke="#000" stroke-width="0.45">—</text>
<text x="1919 1937.7 1951.4 1967.6" y="2355.9" font-size="33.5" class="r" stroke="#000" stroke-width="0.3">0.45</text>
<rect x="1661.5" y="2384.2" width="93.6" height="46.4" fill="#2effc3" stroke="#6e6e6e" stroke-width="2.6"/>
<text x="1772.3 1791 1804.7 1820.9" y="2419.4" font-size="33.5" class="r" stroke="#000" stroke-width="0.3">0.45</text>
<text x="1857.3" y="2415.6" font-size="35.3" class="r" stroke="#000" stroke-width="0.45">—</text>
<text x="1919 1937.7 1951.4" y="2419.4" font-size="33.5" class="r" stroke="#000" stroke-width="0.3">0.5</text>
<rect x="1661.5" y="2447.7" width="93.6" height="46.4" fill="#2eff73" stroke="#6e6e6e" stroke-width="2.6"/>
<text x="1772.3 1791 1804.7" y="2482.8" font-size="33.5" class="r" stroke="#000" stroke-width="0.3">0.5</text>
<text x="1857.3" y="2479" font-size="35.3" class="r" stroke="#000" stroke-width="0.45">—</text>
<text x="1919 1937.7 1951.4 1967.6" y="2482.8" font-size="33.5" class="r" stroke="#000" stroke-width="0.3">0.55</text>
<rect x="1661.5" y="2511.1" width="93.6" height="46.4" fill="#1aff00" stroke="#6e6e6e" stroke-width="2.6"/>
<text x="1772.3 1791 1804.7 1820.9" y="2546.2" font-size="33.5" class="r" stroke="#000" stroke-width="0.3">0.55</text>
<text x="1857.3" y="2542.4" font-size="35.3" class="r" stroke="#000" stroke-width="0.45">—</text>
<text x="1919 1937.7 1951.4" y="2546.2" font-size="33.5" class="r" stroke="#000" stroke-width="0.3">0.6</text>
<rect x="1661.5" y="2574.6" width="93.6" height="46.4" fill="#88ff00" stroke="#6e6e6e" stroke-width="2.6"/>
<text x="1772.3 1791 1804.7" y="2609.7" font-size="33.5" class="r" stroke="#000" stroke-width="0.3">0.6</text>
<text x="1857.3" y="2605.9" font-size="35.3" class="r" stroke="#000" stroke-width="0.45">—</text>
<text x="1919 1937.7 1951.4 1967.6" y="2609.7" font-size="33.5" class="r" stroke="#000" stroke-width="0.3">0.65</text>
<rect x="1661.5" y="2638" width="93.6" height="46.4" fill="#d2ff0a" stroke="#6e6e6e" stroke-width="2.6"/>
<text x="1772.3 1791 1804.7 1820.9" y="2673.2" font-size="33.5" class="r" stroke="#000" stroke-width="0.3">0.65</text>
<text x="1857.3" y="2669.3" font-size="35.3" class="r" stroke="#000" stroke-width="0.45">—</text>
<text x="1919 1937.7 1951.4" y="2673.2" font-size="33.5" class="r" stroke="#000" stroke-width="0.3">0.7</text>
<rect x="1661.5" y="2701.5" width="93.6" height="46.4" fill="#ffee00" stroke="#6e6e6e" stroke-width="2.6"/>
<text x="1772.3 1791 1804.7" y="2736.6" font-size="33.5" class="r" stroke="#000" stroke-width="0.3">0.7</text>
<text x="1857.3" y="2732.8" font-size="35.3" class="r" stroke="#000" stroke-width="0.45">—</text>
<text x="1919 1937.7 1951.4 1967.6" y="2736.6" font-size="33.5" class="r" stroke="#000" stroke-width="0.3">0.75</text>
<rect x="1661.5" y="2764.9" width="93.6" height="46.4" fill="#ffbb00" stroke="#6e6e6e" stroke-width="2.6"/>
<text x="1772.3 1791 1804.7 1820.9" y="2800.1" font-size="33.5" class="r" stroke="#000" stroke-width="0.3">0.75</text>
<text x="1857.3" y="2796.2" font-size="35.3" class="r" stroke="#000" stroke-width="0.45">—</text>
<text x="1919 1937.7 1951.4" y="2800.1" font-size="33.5" class="r" stroke="#000" stroke-width="0.3">0.8</text>
<rect x="1661.5" y="2828.4" width="93.6" height="46.4" fill="#ff8c00" stroke="#6e6e6e" stroke-width="2.6"/>
<text x="1772.3 1791 1804.7" y="2863.5" font-size="33.5" class="r" stroke="#000" stroke-width="0.3">0.8</text>
<text x="1857.3" y="2859.7" font-size="35.3" class="r" stroke="#000" stroke-width="0.45">—</text>
<text x="1919 1937.7 1951.4 1967.6" y="2863.5" font-size="33.5" class="r" stroke="#000" stroke-width="0.3">0.85</text>
<rect x="1661.5" y="2891.8" width="93.6" height="46.4" fill="#e06000" stroke="#6e6e6e" stroke-width="2.6"/>
<text x="1772.3 1791 1804.7 1820.9" y="2927" font-size="33.5" class="r" stroke="#000" stroke-width="0.3">0.85</text>
<text x="1857.3" y="2923.2" font-size="35.3" class="r" stroke="#000" stroke-width="0.45">—</text>
<text x="1919 1937.7 1951.4" y="2927" font-size="33.5" class="r" stroke="#000" stroke-width="0.3">0.9</text>
<rect x="1661.5" y="2955.3" width="93.6" height="46.4" fill="#ad3500" stroke="#6e6e6e" stroke-width="2.6"/>
<text x="1772.3 1791 1804.7" y="2990.4" font-size="33.5" class="r" stroke="#000" stroke-width="0.3">0.9</text>
<text x="1857.3" y="2986.6" font-size="35.3" class="r" stroke="#000" stroke-width="0.45">—</text>
<text x="1919 1937.7 1951.4 1967.6" y="2990.4" font-size="33.5" class="r" stroke="#000" stroke-width="0.3">0.95</text>
<rect x="1661.5" y="3018.8" width="93.6" height="46.4" fill="#800000" stroke="#6e6e6e" stroke-width="2.6"/>
<text x="1772.3 1791 1804.7 1820.9" y="3053.9" font-size="33.5" class="r" stroke="#000" stroke-width="0.3">0.95</text>
<text x="1857.3" y="3050.1" font-size="35.3" class="r" stroke="#000" stroke-width="0.45">—</text>
<text x="1919" y="3053.9" font-size="33.5" class="r" stroke="#000" stroke-width="0.3">1</text>
</svg>
</body></html>
